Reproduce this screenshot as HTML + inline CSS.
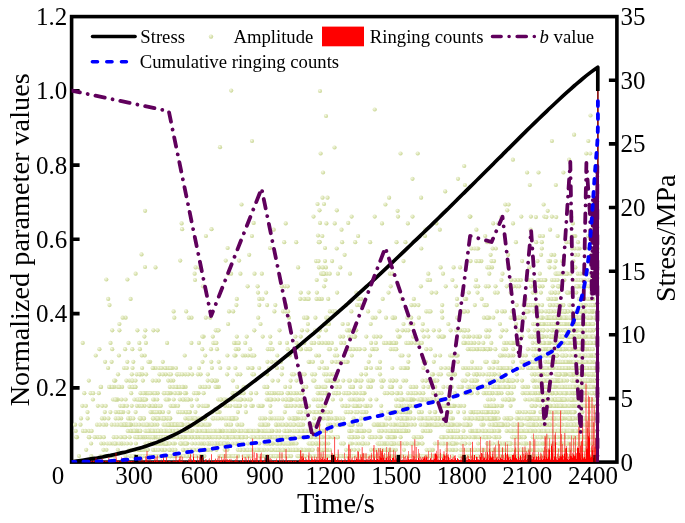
<!DOCTYPE html>
<html><head><meta charset="utf-8"><title>chart</title>
<style>
html,body{margin:0;padding:0;background:#fff;overflow:hidden}
svg{display:block;will-change:transform}
text{font-family:"Liberation Serif",serif;fill:#000}
</style></head><body>
<svg width="685" height="523" viewBox="0 0 685 523">
<rect width="685" height="523" fill="#fff"/>
<rect x="71.6" y="16.6" width="545.3" height="445.5" fill="none" stroke="#000" stroke-width="3.6"/>
<path d="M71.6 90.8H79.6M71.6 165.1H79.6M71.6 239.3H79.6M71.6 313.6H79.6M71.6 387.9H79.6M616.9 398.5H608.9M616.9 334.8H608.9M616.9 271.2H608.9M616.9 207.5H608.9M616.9 143.9H608.9M616.9 80.3H608.9" stroke="#000" stroke-width="3.6" fill="none"/>
<path d="M136.2 462.1V454.6M201.7 462.1V454.6M267.3 462.1V454.6M332.8 462.1V454.6M398.4 462.1V454.6M464 462.1V454.6M529.5 462.1V454.6M595.1 462.1V454.6" stroke="#000" stroke-width="3.5" fill="none"/>
<clipPath id="cp"><rect x="71.6" y="16.6" width="545.3" height="445.9"/></clipPath>
<g clip-path="url(#cp)">
<defs><radialGradient id="rg" cx="0.36" cy="0.34" r="0.72"><stop offset="0" stop-color="#f7f9ea"/><stop offset="0.35" stop-color="#e3eac3"/><stop offset="0.75" stop-color="#d2dda3"/><stop offset="1" stop-color="#bfce83"/></radialGradient><marker id="mk" markerWidth="6" markerHeight="6" refX="3" refY="3" markerUnits="userSpaceOnUse"><circle cx="3" cy="3" r="2.1" fill="url(#rg)"/></marker></defs>
<polyline points="559.5,342.9 422.8,324 290.6,380.6 571,437.2 554.2,418.4 554.8,399.5 356.4,292.6 584.7,380.6 288,449.8 553.4,368 145.3,430.9 552.6,380.6 281.2,443.5 218.2,399.5 370.9,386.9 553.6,430.9 298.2,412.1 488.2,386.9 185.9,412.1 317.6,443.5 551.6,412.1 469.4,443.5 325.5,280 163.6,449.8 204.3,424.7 572,386.9 433.1,374.3 569.3,336.6 428.3,386.9 325,248 578.6,437.2 212.8,336.6 116.6,443.5 326.8,273.7 580.1,399.5 184.9,443.5 578.2,424.7 555.1,330.3 470.4,349.2 549.8,405.8 264.6,437.2 140.5,393.2 122.1,443.5 97,424.7 589.9,324 559.4,430.9 569.3,305.1 492.3,430.9 129.4,380.6 540.4,280 203.9,443.5 227.6,248 554.2,399.5 389.8,273.7 573.5,361.8 148.1,443.5 164.4,418.4 408.6,430.9 549,449.8 553.8,317.7 384.7,424.7 532.8,437.2 464.2,166 402.8,430.9 593,311.4 469.6,437.2 596,368 157.4,424.7 561.8,443.5 448.3,324 563.7,355.5 132.9,430.9 376.7,456.1 521.2,456.1 478.6,342.9 560.5,317.7 500.7,336.6 258,292.6 264.3,386.9 118.7,386.9 278.1,443.5 332.8,380.6 357.9,424.7 341.3,361.8 538.2,349.2 268.3,424.7 259.7,424.7 168,393.2 588,374.3 158.6,437.2 535.6,405.8 408,368 325.1,405.8 470.6,380.6 590.1,443.5 578.2,349.2 349.6,399.5 119.4,330.3 551.6,298.9 509.2,399.5 391.5,443.5 593.2,298.9 580.2,368 438.7,456.1 446.6,449.8 179.5,456.1 596.2,380.6 586,311.4 380.3,424.7 390.7,349.2 104.5,418.4 564.6,449.8 196.2,456.1 555.2,336.6 334.9,456.1 572.5,368 582.7,317.7 433,449.8 171.2,424.7 259.3,305.1 434.9,418.4 337.3,424.7 285.2,386.9 593.6,380.6 245.9,412.1 580.9,393.2 577.7,273.7 328.1,449.8 86.2,449.8 554.5,443.5 285.9,399.5 154.6,449.8 580.6,286.3 104.8,412.1 540.2,412.1 323.4,430.9 267.3,386.9 489.9,242.2 380.1,443.5 562.6,330.3 428.8,456.1 139.8,437.2 154.2,412.1 571.5,412.1 206.7,437.2 569,430.9 497.7,393.2 393.5,342.9 548.3,361.8 546.7,380.6 485.9,305.1 450.7,405.8 522.5,456.1 570.7,412.1 544,443.5 252.4,374.3 154.2,443.5 388.2,437.2 556.3,317.7 166.3,430.9 559.1,286.3 427.6,280 165.1,368 536.7,342.9 592.4,430.9 298.7,374.3 495,292.6 332.2,380.6 177.4,386.9 145.9,437.2 115,399.5 583.6,405.8 569.2,324 287.7,456.1 581.8,456.1 399.3,443.5 558.8,386.9 173.2,424.7 328.9,349.2 308.6,443.5 301,349.2 323.5,405.8 586.1,449.8 186.7,412.1 435.2,418.4 150.4,443.5 433.7,330.3 315.4,317.7 235.4,342.9 378.8,443.5 185.3,430.9 154.8,430.9 581.1,355.5 539.7,386.9 439.2,418.4 542.7,368 413.8,399.5 526.8,443.5 576.5,393.2 447.3,443.5 461.7,437.2 181.3,424.7 240.2,393.2 542.1,305.1 503.1,424.7 297.6,424.7 192.1,374.3 150.8,443.5 561.1,437.2 140.6,399.5 592,336.6 393.8,349.2 202.1,456.1 390.2,449.8 497.7,456.1 142.1,368 525.5,361.8 577.8,361.8 278.4,361.8 505.6,456.1 581.5,330.3 263.3,424.7 319,355.5 591.3,336.6 321.6,430.9 517.7,456.1 535.6,380.6 563.3,374.3 559.2,393.2 465.1,443.5 568.6,437.2 189.1,437.2 337.6,437.2 456.8,305.1 456.3,330.3 405.2,424.7 266.5,456.1 191.7,437.2 550.4,292.6 591.7,430.9 577.2,324 527.8,368 106.4,449.8 558.4,342.9 159.2,418.4 134.1,424.7 537.6,317.7 251.5,355.5 343.5,443.5 562.4,443.5 146.2,393.2 386.4,443.5 558.2,456.1 132.6,386.9 567.8,210.8 303.2,456.1 526.4,311.4 438.4,418.4 193.9,456.1 326.9,449.8 144.7,355.5 136.9,430.9 191.5,317.7 336,437.2 585.7,456.1 421.9,412.1 351.4,311.4 166.5,437.2 323.6,449.8 224.6,418.4 266.5,443.5 230.6,418.4 452,443.5 530.7,361.8 559.6,430.9 469.4,456.1 585.4,305.1 453.8,430.9 435,380.6 119.4,324 558.9,330.3 472.2,386.9 428.2,399.5 593.1,286.3 363,430.9 595.6,336.6 591.4,317.7 434.7,399.5 426.9,418.4 293.1,430.9 523.1,412.1 309.3,424.7 564.9,456.1 468.6,368 125.6,456.1 512.6,424.7 263.9,449.8 448,386.9 502.9,368 243.2,456.1 259.3,443.5 410.7,456.1 172.5,405.8 568.6,412.1 129.5,386.9 228.1,324 442.7,405.8 513.6,399.5 202.6,449.8 162.6,437.2 325.9,267.4 553.1,449.8 129.9,418.4 578,242.2 495.2,424.7 549.5,424.7 579.1,399.5 432.8,424.7 522,380.6 557.7,430.9 195.4,412.1 163,412.1 161.6,437.2 315.3,412.1 249.2,254.8 555.3,292.6 418.4,305.1 345.7,412.1 574.5,424.7 517.6,449.8 592.4,254.8 576,430.9 554.4,311.4 197.4,449.8 557.9,405.8 271,449.8 199.8,437.2 326.9,393.2 507.5,393.2 304.7,437.2 322.9,386.9 326,116 587.4,317.7 533.6,311.4 463.9,456.1 410.6,386.9 164.7,443.5 588.7,437.2 569.1,159.7 579.2,386.9 566.9,424.7 194.6,273.7 583,368 562.6,380.6 326.2,430.9 328,456.1 320,222.9 506.3,330.3 450.8,424.7 269.7,443.5 513.7,424.7 125.6,317.7 181.1,443.5 177.2,430.9 546.2,324 448.8,405.8 207.6,443.5 410.3,412.1 551.8,380.6 445.8,424.7 570.8,437.2 582.7,330.3 488.8,412.1 389.1,197.7 301.2,405.8 538.4,418.4 528.3,330.3 538.7,399.5 388.3,456.1 360.9,424.7 206.5,430.9 426.3,311.4 588.3,443.5 477.5,393.2 225.7,437.2 545.7,399.5 546.4,393.2 176,368 211.3,361.8 589.3,418.4 523.8,456.1 364.5,393.2 392.1,386.9 418,399.5 254.3,330.3 499.8,424.7 541.8,242.2 343.3,380.6 574.5,393.2 535.4,405.8 201.9,418.4 590,355.5 370.1,242.2 248.1,355.5 106.3,424.7 462.5,311.4 199.6,437.2 380.4,336.6 233.9,399.5 593,374.3 117.8,399.5 563,336.6 234.4,456.1 152.3,437.2 170.5,405.8 234.2,430.9 588.4,418.4 337.1,292.6 545.7,443.5 469.4,418.4 581.7,405.8 445.7,418.4 506.2,349.2 288.5,449.8 240.3,424.7 592.4,280 379.9,368 343.7,456.1 571.1,317.7 140.4,374.3 130.6,298.9 558.9,317.7 510.6,405.8 368.3,430.9 283.1,311.4 576.1,355.5 169.8,386.9 139.6,418.4 550.5,355.5 507.7,418.4 522.8,368 185.6,386.9 136.8,399.5 103.4,456.1 519.8,437.2 556.1,361.8 541.6,393.2 430.4,424.7 469.6,386.9 574.7,248.5 549.9,342.9 310,361.8 542.7,336.6 497.3,456.1 582.7,368 538.5,368 587.9,399.5 378.9,430.9 425.8,430.9 503.6,380.6 541.4,368 114.4,443.5 478.9,336.6 509.6,418.4 247.5,449.8 173.1,437.2 420.3,399.5 200.6,374.3 531.4,405.8 87.5,412.1 586.6,380.6 182.5,399.5 589.4,386.9 277.5,393.2 372.9,380.6 204.9,418.4 298.3,418.4 536.3,443.5 407.9,393.2 593.4,361.8 529.8,430.9 502.5,273.7 565.8,399.5 564.9,349.2 223.1,443.5 554.3,254.8 317.7,437.2 520.8,449.8 206.3,424.7 303.6,430.9 380,361.8 254.5,273.7 538.9,430.9 454.9,405.8 590,380.6 77,437.2 142.5,424.7 473.4,430.9 198.5,418.4 506.3,424.7 542.1,317.7 240.2,405.8 571.9,361.8 286.2,424.7 593.6,399.5 173.9,424.7 586.8,449.8 236.2,456.1 311.7,437.2 155.7,405.8 375.9,456.1 481.6,449.8 245.1,355.5 420.3,456.1 566.8,292.6 512.7,430.9 159,443.5 527.3,305.1 588.3,280 279.1,437.2 440.5,443.5 549.5,317.7 505.2,449.8 581.5,336.6 262.5,298.9 452.6,437.2 524.4,449.8 212.6,437.2 544,342.9 555.5,374.3 477.3,412.1 385.1,443.5 448.2,430.9 192.1,437.2 326.2,317.7 530.9,216.6 508.9,386.9 573,374.3 568.8,374.3 227.9,443.5 520.2,449.8 508.9,267.4 445.9,405.8 528.1,418.4 291,393.2 317.5,204 177,424.7 536.7,386.9 183,456.1 487.8,399.5 407,443.5 574.3,317.7 574.3,374.3 358.8,405.8 159.5,374.3 151.8,430.9 416.9,437.2 414.9,405.8 147.7,449.8 549.9,456.1 279.8,342.9 562.5,361.8 300.1,393.2 145,267 273,443.5 544,418.4 443.7,437.2 354,405.8 322.5,197.7 491.4,412.1 576.7,368 586.8,349.2 297.3,456.1 529.8,368 207.9,405.8 328.3,443.5 192.4,430.9 160.4,430.9 151,443.5 279.3,393.2 216.6,437.2 402.2,405.8 484.3,437.2 88.8,380.6 173.9,437.2 389.8,418.4 566.4,317.7 108.1,368 497.9,443.5 164.5,437.2 549.1,349.2 575.8,386.9 126.8,424.7 344.3,361.8 162,456.1 157.6,330.3 272.7,437.2 544,399.5 154.7,424.7 337.6,456.1 537.8,399.5 409.6,405.8 231.2,90.6 501.3,443.5 363.2,443.5 165.6,399.5 503.2,449.8 396.9,456.1 322.5,412.1 551.9,141 516.1,324 151.1,430.9 584.5,280 534.4,424.7 212.6,418.4 566.2,374.3 254.4,449.8 478,430.9 271.9,399.5 547.1,412.1 524.8,443.5 351.6,216.6 300.9,449.8 489.2,368 568.7,336.6 482.7,418.4 267.8,349.2 299.7,456.1 80.5,424.7 404.9,430.9 592.1,368 286.9,405.8 556.3,393.2 386.2,418.4 366.3,336.6 538.1,305.1 296.4,449.8 387.1,443.5 582.4,336.6 495.8,248.5 545.3,405.8 592.1,324 468.4,342.9 545,424.7 376.4,399.5 550.9,412.1 396.7,430.9 435.3,412.1 552.9,393.2 540.9,292.6 557.7,286.3 413.3,399.5 422.4,418.4 565.8,430.9 497.7,412.1 170.9,393.2 374,336.6 99.9,424.7 182.1,229.2 533.6,449.8 538.8,399.5 540.8,399.5 204.3,418.4 476.2,437.2 562.1,273.7 408.3,418.4 491.3,342.9 573,405.8 432.3,456.1 203.6,393.2 141.9,399.5 471.7,430.9 352,443.5 169.8,449.8 543.2,418.4 483.2,430.9 232.7,443.5 315,456.1 383.9,342.9 410.3,324 423.1,399.5 467.8,311.4 536.5,324 577.1,399.5 563.4,349.2 271.3,437.2 204.8,449.8 513.2,349.2 165.1,430.9 183.3,437.2 582.3,311.4 395.4,349.2 144.1,399.5 208.7,437.2 495.4,437.2 534,418.4 192.4,418.4 445.7,286.3 434.8,424.7 324.1,374.3 520.8,280 547.4,355.5 473.5,336.6 576.5,330.3 551.9,280 503.4,368 170.7,424.7 486,336.6 185,399.5 320.4,443.5 252.5,368 488.9,430.9 143.3,437.2 448.9,424.7 199.2,449.8 134.4,399.5 525.5,393.2 590.5,115.5 527.9,361.8 167.4,418.4 582.5,361.8 556.5,380.6 569.8,374.3 406.2,418.4 480.3,449.8 507.2,210.3 519.6,412.1 549.2,449.8 549.6,412.1 162.8,361.8 240.8,449.8 281.1,424.7 538.3,449.8 239.6,430.9 121.2,418.4 138,449.8 535.2,374.3 282.8,399.5 579.5,248.5 395.1,430.9 306.1,349.2 485.6,430.9 536.5,418.4 570.4,443.5 174.7,430.9 87.6,418.4 186.1,399.5 587.7,430.9 454.1,430.9 340,424.7 119.9,412.1 188.8,317.7 140,430.9 400.5,153.5 216.7,412.1 575.5,317.7 585.4,374.3 219.6,412.1 397.3,424.7 318,449.8 533,324 581.4,443.5 476.9,418.4 462.9,330.3 490.3,399.5 103.9,443.5 473.2,380.6 454.8,374.3 521.3,216.6 574.6,449.8 567.8,418.4 131.7,405.8 321,273.7 583.1,418.4 92.9,399.5 222.3,430.9 134.4,386.9 124,368 597.4,368 160.4,430.9 270.3,405.8 177.6,437.2 228.2,443.5 161.2,437.2 594.1,456.1 219.8,456.1 560.3,330.3 149.1,424.7 437.6,399.5 395.9,449.8 570.6,349.2 365.5,456.1 596.8,430.9 307.3,430.9 576.8,330.3 586.1,399.5 525.6,311.4 527.9,418.4 354.3,399.5 547.4,317.7 413.8,437.2 241.5,204.5 328.3,418.4 490.5,405.8 574.9,437.2 451.4,443.5 496.4,424.7 592.7,405.8 567.9,430.9 195.6,267.4 190.9,449.8 390.1,380.6 581.3,342.9 324,273.7 347.2,349.2 568.6,405.8 339.3,456.1 190,412.1 571.2,361.8 583.8,374.3 544.2,449.8 574.5,368 320,91 287.3,437.2 234.8,405.8 485.2,361.8 186.1,393.2 489.3,273.7 303,456.1 567.5,456.1 304.9,449.8 168.6,443.5 234.7,437.2 226.8,418.4 179.8,424.7 180.2,393.2 533.6,418.4 279.8,449.8 352.6,437.2 212.1,443.5 396.2,342.9 542.3,430.9 498.4,449.8 559.9,386.9 88.8,437.2 495.5,286.3 592.5,355.5 549.2,393.2 540.3,342.9 558.5,399.5 596.4,374.3 557.6,405.8 163,418.4 398.3,430.9 144.5,424.7 519.3,456.1 591.8,374.3 228.2,437.2 529.3,412.1 287.4,430.9 543.7,412.1 555.9,386.9 597.3,399.5 271.3,449.8 467.1,374.3 509.8,430.9 500.4,424.7 141.5,456.1 531.1,286.3 301,449.8 114.3,386.9 463.5,430.9 255.4,449.8 271.1,430.9 572.8,336.6 550.8,456.1 265,456.1 521.3,437.2 584.3,424.7 573.9,399.5 542.3,349.2 485.1,393.2 421.8,399.5 317.7,405.8 529.5,443.5 266.3,430.9 381.2,405.8 554.2,349.2 199,368 534.2,386.9 513.5,437.2 477.4,374.3 163.5,424.7 530,430.9 580.5,424.7 283.6,449.8 564.8,430.9 318.9,267.4 287.3,456.1 377.8,449.8 494.8,405.8 532.3,405.8 477.8,456.1 349.7,456.1 584.1,361.8 336.8,210.3 355,336.6 443,273.7 581.6,380.6 334.5,147.5 516.8,374.3 263.7,430.9 358.1,236 574.6,412.1 527.7,456.1 140.3,456.1 427.2,330.3 587.4,368 576.2,424.7 257.6,286.3 543.6,324 319.4,368 555.8,449.8 596.4,361.8 326.1,456.1 516.5,456.1 573.7,437.2 502.9,399.5 562.9,393.2 418.3,456.1 526.9,424.7 590.4,386.9 566,368 519,456.1 587.6,424.7 549.8,449.8 117.5,399.5 558,424.7 582,336.6 186.6,456.1 146.1,399.5 561,311.4 563.1,449.8 103.4,449.8 556.9,399.5 522.9,355.5 392.3,368 546.5,418.4 586.3,324 316,443.5 576.9,361.8 563.5,368 228.5,368 511,443.5 164.8,437.2 573,280 281.6,456.1 75.1,424.7 383.2,424.7 399.7,430.9 113.7,437.2 537.5,437.2 565,317.7 564.8,386.9 518.5,342.9 145.8,456.1 505.4,368 450.6,430.9 202.5,430.9 525.3,399.5 516.7,305.1 572.6,399.5 244.3,449.8 208.8,449.8 167.2,418.4 549.9,361.8 390.7,449.8 441,437.2 568.3,412.1 571.4,399.5 306.3,437.2 356.1,380.6 556.2,324 583.5,298.9 587.1,405.8 579.3,437.2 522.6,424.7 316,261.1 272.4,430.9 165.1,449.8 205.6,430.9 553.9,399.5 493.5,424.7 570.4,324 594.1,399.5 519.6,430.9 296.4,418.4 131.1,424.7 381.7,386.9 571.2,418.4 313.6,399.5 144.6,405.8 583.8,273.7 476.1,280 361.3,443.5 359.7,430.9 216.4,449.8 495.5,424.7 238.5,349.2 558.5,286.3 585.9,305.1 570.1,424.7 440.6,267.4 557.5,412.1 547.1,349.2 165.6,443.5 169.9,456.1 555.6,342.9 562.9,437.2 407.2,443.5 160.1,412.1 568.9,336.6 197.1,430.9 313.2,456.1 581.8,418.4 358.9,405.8 482.8,412.1 554,456.1 475.4,456.1 571.2,418.4 572.3,418.4 555.7,355.5 116.8,437.2 540.8,355.5 383.2,380.6 520.4,418.4 177.6,430.9 415,342.9 534,449.8 285.3,449.8 578.8,443.5 501.6,456.1 246.7,449.8 161.9,456.1 271.9,418.4 555.7,361.8 507.8,449.8 145.3,330.3 559.9,399.5 588.6,317.7 475.2,380.6 576.2,280 177,424.7 569.9,449.8 570.3,399.5 147.5,449.8 211.5,229.2 591.7,330.3 343.2,336.6 208.3,430.9 558,317.7 264.4,430.9 401.7,456.1 388.2,412.1 522.6,437.2 564.8,273.7 387.4,449.8 235.6,437.2 549.7,305.1 311.4,449.8 571.3,412.1 569.2,361.8 587.7,324 176.9,374.3 396.1,405.8 346.8,456.1 487.8,437.2 285.6,311.4 393.3,317.7 260.2,449.8 305.7,405.8 311.6,342.9 441.6,424.7 576.9,386.9 203.2,386.9 564.1,412.1 343.1,424.7 163.3,443.5 496.3,418.4 428.3,273.7 554.5,267.4 587.7,456.1 571.2,311.4 173.1,449.8 294.6,418.4 552.4,368 505.6,399.5 489.5,330.3 231.3,399.5 497,311.4 521.2,424.7 514.7,342.9 159.5,456.1 544.1,342.9 135.2,430.9 535.5,324 582.1,449.8 202.4,405.8 512.2,386.9 349.2,437.2 477.1,380.6 561.7,349.2 266.8,430.9 589.3,399.5 536.6,456.1 97.5,437.2 596.6,261.1 393.7,456.1 585.8,286.3 496.1,449.8 261.6,430.9 415.4,456.1 242.3,424.7 592,204.5 470.1,430.9 562,311.4 572.4,342.9 167.1,443.5 538.4,324 306.3,430.9 203.4,437.2 447.8,405.8 494.6,430.9 587.9,336.6 257.1,437.2 385.8,430.9 223.2,430.9 562.6,368 297.6,449.8 548.2,380.6 551.2,456.1 134.1,430.9 591.4,324 230,456.1 270.4,349.2 493,368 154.3,437.2 520.4,430.9 554.5,330.3 125.9,424.7 456.8,430.9 237.8,449.8 166,430.9 412.5,216.6 480.9,418.4 128.3,412.1 460.5,449.8 323,437.2 555.3,449.8 393.8,342.9 291.9,374.3 578,324 130.5,424.7 165.2,437.2 320.7,412.1 536.8,424.7 507,443.5 358.7,443.5 596.9,273.7 285.7,223.4 580.1,430.9 219.6,443.5 535,336.6 567.3,449.8 269.7,456.1 498.3,223.4 318.9,393.2 561.7,412.1 499.4,380.6 559.5,361.8 541.5,449.8 460.1,267.4 557.1,355.5 156.2,418.4 131.9,380.6 572.8,456.1 562.2,261.1 382.6,449.8 123.9,424.7 322.6,273.7 555.3,324 549.6,424.7 485.1,412.1 582.1,393.2 498.5,430.9 365.7,443.5 565.2,311.4 368.1,380.6 573.7,330.3 584.3,349.2 585.3,355.5 489.6,374.3 583.2,405.8 575.3,405.8 582.6,443.5 487.4,349.2 265.2,424.7 506.6,449.8 248,399.5 544.3,216.6 188.7,424.7 554.7,405.8 334.7,223.4 494.3,386.9 335.8,380.6 500.4,368 356.7,349.2 474.4,437.2 259.3,456.1 482.5,386.9 139.1,399.5 579.1,405.8 328.4,342.9 153.5,393.2 155.7,368 577.4,405.8 545.8,399.5 579.6,443.5 442.8,424.7 319.5,241.8 557.3,374.3 486.9,443.5 274,456.1 238.3,430.9 402.1,405.8 130.7,418.4 547,449.8 368.1,443.5 499.3,430.9 214.6,342.9 558.9,317.7 568.4,418.4 113,399.5 236.4,305.1 305.6,412.1 371,449.8 557.9,361.8 322.5,456.1 492.6,248.5 370.6,380.6 583.9,355.5 421.5,437.2 383.6,380.6 526.9,456.1 538.2,336.6 571.3,217.1 192.6,449.8 404.6,405.8 229,424.7 101.2,443.5 132.7,386.9 584.2,399.5 531.1,430.9 393.9,412.1 224.7,449.8 258.9,449.8 481.6,456.1 592.8,361.8 521.1,449.8 534.7,374.3 492.7,405.8 402.5,424.7 549.4,424.7 320.9,393.2 587,405.8 320,456.1 497.5,368 389.9,437.2 559.5,305.1 560.1,324 597.4,393.2 565,330.3 91.3,456.1 188.8,412.1 473.2,412.1 175.5,405.8 496.9,418.4 455.5,355.5 174.3,424.7 558.5,405.8 533.4,361.8 549.1,368 330.9,412.1 558.3,380.6 571,412.1 551.9,449.8 140.7,449.8 477.6,368 588.9,437.2 540,368 270.6,342.9 248,368 595.5,355.5 488.4,418.4 555.9,324 510.8,443.5 546,374.3 404.6,456.1 508.8,355.5 563.6,412.1 586.3,336.6 288.9,449.8 516.4,449.8 244.3,456.1 559.3,380.6 190.2,368 135.9,443.5 595.1,342.9 579.2,456.1 583.9,386.9 350.4,349.2 592.6,336.6 576.4,386.9 163.2,437.2 278.6,449.8 269.6,456.1 589.5,311.4 572.8,292.6 129.6,437.2 322.7,267.4 112.2,349.2 478.5,418.4 303.2,424.7 556.9,368 169.9,430.9 210,443.5 106.3,279.5 207.7,380.6 365.8,412.1 325.7,342.9 441.3,336.6 473,437.2 540.3,437.2 532.8,443.5 233.2,311.4 366.6,405.8 249.8,456.1 171.5,430.9 594.1,449.8 565.9,393.2 588.8,368 489.5,418.4 548.3,317.7 548.1,405.8 512.9,159.7 125.8,424.7 196.9,437.2 269.8,443.5 573.3,368 344.6,254.8 156.8,443.5 250.5,399.5 593.4,330.3 464.8,393.2 135,437.2 493.7,399.5 582.5,412.1 359.7,349.2 596.7,368 548.9,311.4 177.9,412.1 522.4,449.8 341.5,229.7 111.2,456.1 123.3,412.1 406.4,424.7 169.1,374.3 494.4,361.8 583.1,380.6 152.3,405.8 507.9,368 450.1,355.5 495.3,449.8 528.2,305.1 384.9,443.5 531,449.8 239.4,443.5 494.6,405.8 443.9,336.6 587.8,374.3 581.7,443.5 594.1,393.2 169.6,393.2 456.2,424.7 487.6,412.1 127.4,279.5 263,456.1 573.5,355.5 494.4,449.8 388.3,443.5 517.9,430.9 543.5,368 240.6,437.2 566.9,386.9 152.1,412.1 332.5,374.3 559.5,324 170.4,456.1 575.5,330.3 186,437.2 182.6,430.9 556,330.3 535.8,393.2 277.7,456.1 385.4,204.5 300.5,424.7 155.1,412.1 236.8,336.6 143.7,418.4 564.5,361.8 429,424.7 562.5,443.5 481.8,412.1 474.8,305.1 252.8,405.8 303.3,437.2 526.7,430.9 200.2,456.1 594,405.8 546.7,443.5 533.6,355.5 555.4,418.4 522.1,261.1 530.6,229.7 569.2,430.9 390.7,286.3 549.2,430.9 343.7,456.1 537.8,399.5 586.2,330.3 380,374.3 590.6,418.4 400.4,424.7 551.9,393.2 461.1,437.2 499.4,386.9 536,399.5 590.4,405.8 157.6,430.9 555.4,292.6 350.2,430.9 553.6,430.9 336.7,248.5 198.5,424.7 188,418.4 521.6,443.5 170.3,418.4 390.7,424.7 596,361.8 167.4,437.2 426.4,456.1 156.7,437.2 503.5,456.1 561.8,386.9 380.7,437.2 583.2,449.8 581.9,437.2 533.6,368 446.1,456.1 328.9,456.1 476.5,374.3 380.5,424.7 198.5,405.8 370.9,437.2 453.8,449.8 285,286.3 575.8,456.1 472,361.8 141.3,449.8 584.8,405.8 316.2,355.5 146.9,430.9 355.3,412.1 349.5,330.3 538.8,443.5 534.7,449.8 589.4,305.1 436.1,418.4 565.2,374.3 367.4,405.8 270.5,449.8 214.8,380.6 594.3,317.7 271.7,430.9 589.9,298.9 366.5,412.1 250.9,393.2 411.3,399.5 510.3,449.8 274.4,311.4 477.1,430.9 315.8,424.7 578.6,311.4 279.7,456.1 545.4,430.9 573,418.4 400.5,355.5 303.4,386.9 324.9,412.1 552.8,336.6 206.8,449.8 411.3,393.2 470.4,216.6 262.7,336.6 491.7,418.4 356.5,393.2 235.2,418.4 441.1,456.1 314.3,342.9 566.4,242.2 554.1,405.8 353.6,418.4 336.7,393.2 543.4,449.8 574.8,405.8 457.6,355.5 524.4,449.8 170.9,374.3 428.9,311.4 268.1,430.9 563.4,172.5 274.4,393.2 456.4,430.9 464.9,185 330.4,424.7 406.2,380.6 589,349.2 488.1,393.2 493.9,456.1 531.9,374.3 428.3,336.6 587.7,361.8 593.2,330.3 541.8,280 304.3,342.9 556.9,399.5 499.5,424.7 568.9,336.6 201.6,437.2 361.2,374.3 545.4,280 386.5,424.7 315.2,437.2 543.2,424.7 557,368 506.2,368 116.3,399.5 477.9,349.2 560.5,349.2 177.1,424.7 173.3,456.1 322.1,393.2 408.2,456.1 230.9,437.2 121.6,399.5 562,349.2 287.7,349.2 570.3,437.2 410.6,418.4 588.5,456.1 403.6,424.7 540.2,424.7 536.4,424.7 460.1,330.3 545.2,412.1 556.1,298.9 581.2,305.1 555.8,185 474.6,412.1 589.9,330.3 569.9,418.4 578.3,317.7 447.4,405.8 147.8,437.2 178.2,424.7 416.3,386.9 591.9,342.9 591.8,393.2 238,342.9 565.2,399.5 184.2,443.5 502.1,405.8 504.8,311.4 342.1,242.2 288.9,317.7 155.3,405.8 532.7,443.5 148.6,430.9 310,456.1 546.2,449.8 510.1,418.4 508.1,424.7 345.2,456.1 471.4,368 322.9,456.1 348.8,330.3 387.5,456.1 565.3,386.9 389.1,456.1 573.4,336.6 147.8,393.2 327.5,197.7 574.8,336.6 319.6,412.1 157.7,430.9 236.9,399.5 364.3,430.9 487.9,405.8 442.6,336.6 480,336.6 250.9,449.8 485,405.8 234,342.9 407.1,368 590.2,399.5 565.1,456.1 154.7,399.5 538.4,380.6 419.4,342.9 524,430.9 288.3,437.2 508.4,399.5 384.8,393.2 592.2,405.8 583.4,430.9 307.3,330.3 405.9,330.3 331,430.9 323.1,273.7 209.3,437.2 393.5,449.8 341.8,456.1 230.8,456.1 531,418.4 595.6,236 159.9,443.5 131.8,374.3 596.4,305.1 562.6,430.9 397.6,210.8 177.6,374.3 585,330.3 413.1,336.6 382,430.9 138,399.5 541.9,336.6 153.4,330.3 506.5,443.5 111.7,424.7 581.2,330.3 521.4,361.8 452.2,456.1 535.7,449.8 183.6,449.8 420.2,399.5 332.7,437.2 289.7,355.5 565.4,361.8 267.2,449.8 156.6,418.4 466.3,449.8 312.1,449.8 519.8,449.8 561.4,399.5 160.8,456.1 179.9,443.5 541.8,248.5 461.2,443.5 246.7,336.6 368,386.9 397.8,393.2 564.4,311.4 565,437.2 236.4,437.2 463.2,424.7 169.7,368 110.5,386.9 506.7,286.3 229,311.4 137.6,456.1 576.9,349.2 471.3,449.8 539.8,236 496.6,437.2 578.9,456.1 583.4,305.1 546.3,355.5 313.5,216.6 321.2,449.8 114.9,424.7 582,399.5 584.8,418.4 587.8,386.9 576,286.3 547.6,412.1 395,317.7 578.5,386.9 349.2,336.6 270,248 233.1,430.9 257.9,430.9 494.8,449.8 590.2,424.7 577.4,418.4 562.4,386.9 552.4,449.8 560.1,374.3 532.7,292.6 516.7,286.3 124.1,405.8 364.5,349.2 285.6,405.8 577.8,330.3 319.9,456.1 559,424.7 585.2,336.6 286.8,449.8 528.6,311.4 390.8,342.9 547.3,437.2 586.3,153.5 551.3,254.8 473.7,412.1 508.5,399.5 376.7,456.1 458.2,430.9 374.7,109.5 259.2,368 340,418.4 551.6,418.4 564.7,374.3 389.7,386.9 501.5,393.2 587.7,324 588.9,342.9 587,424.7 489.6,380.6 505.5,399.5 172.4,368 150.5,412.1 515.6,317.7 182.3,424.7 490.4,349.2 522.6,361.8 431.3,456.1 336.2,393.2 396.9,412.1 302.4,449.8 590.2,368 145.5,443.5 234.1,456.1 326.5,456.1 314.2,418.4 596.4,368 510.5,399.5 551.1,424.7 579,449.8 590.6,418.4 344.3,342.9 197.9,449.8 353.4,349.2 590.2,342.9 421.9,443.5 432,418.4 227.1,456.1 329.9,449.8 535.2,305.1 568.3,349.2 191.9,405.8 287,342.9 559.6,449.8 325.9,330.3 482.5,456.1 322.4,443.5 430.5,430.9 322,449.8 569.3,292.6 135.5,386.9 506.6,430.9 476.4,229.7 575.1,418.4 489.8,405.8 244.7,399.5 348.2,456.1 594.9,355.5 567.1,380.6 592.5,311.4 565.8,393.2 474.4,342.9 560.9,336.6 293.9,374.3 179.5,437.2 159.5,412.1 576.4,361.8 586.4,437.2 567.7,437.2 433.4,456.1 311.7,443.5 486.6,393.2 477.7,449.8 499.1,456.1 377.6,443.5 531.3,418.4 191.1,399.5 554.6,430.9 407.8,223.4 547.4,430.9 283.4,443.5 370.1,355.5 117.6,424.7 295.1,449.8 526.8,456.1 545.9,311.4 559.6,368 579.6,324 594.5,393.2 479.9,374.3 582.7,374.3 548.1,437.2 400.7,368 379.4,311.4 492,267.4 238.3,399.5 546,349.2 222.5,430.9 204.6,443.5 534.1,412.1 467.3,393.2 554.3,336.6 552.4,456.1 560.4,361.8 155.5,267.4 539,311.4 82.7,342.9 280.6,449.8 489.2,317.7 577.8,374.3 526.1,449.8 208.8,430.9 559.7,443.5 187.4,443.5 111.6,361.8 326.7,374.3 393.1,443.5 232.8,380.6 408.3,330.3 572.1,342.9 525.8,355.5 570.8,449.8 365.9,374.3 309.1,349.2 156.2,456.1 131.7,430.9 594.4,242.2 593.2,424.7 555.7,456.1 443.4,456.1 549.9,368 421.5,456.1 252,141 391,437.2 285.3,449.8 439.8,229.7 247.8,449.8 588.4,386.9 503.6,456.1 227.1,374.3 356.6,405.8 560.7,430.9 431.6,292.6 406.7,412.1 258.3,430.9 511.3,449.8 344,393.2 587.6,298.9 539.2,399.5 510.8,368 559.9,374.3 350,273.7 272.8,456.1 533.7,368 528.6,280 513,361.8 183.6,456.1 450.9,412.1 485.8,349.2 196.9,449.8 591.7,355.5 558.3,456.1 88.9,430.9 563,305.1 411.2,317.7 573.4,261.1 500,443.5 110.5,342.9 350.5,424.7 524.4,430.9 418.1,342.9 274.1,437.2 274.4,449.8 298.7,424.7 443,456.1 484.3,305.1 589.6,342.9 211.4,437.2 276.1,443.5 168.7,437.2 360.9,418.4 573.8,349.2 350.1,386.9 562.3,456.1 584.1,324 383.7,456.1 291,449.8 301.8,374.3 406.6,418.4 565.9,430.9 352.8,424.7 240.3,449.8 596,242.2 548,399.5 544.6,280 496.9,449.8 530.3,305.1 223.4,443.5 584.3,298.9 590.1,368 465.7,368 149.5,405.8 590.1,349.2 546.5,336.6 212.4,412.1 543.3,412.1 529.7,336.6 399.8,424.7 530.6,368 568.9,349.2 470.6,261.1 180.1,424.7 558,430.9 412.5,178.8 161.8,449.8 575.7,349.2 336,361.8 573.5,424.7 331.3,418.4 402.8,430.9 544.5,412.1 401.6,456.1 451,430.9 327.1,368 579.2,349.2 506.9,418.4 525.9,412.1 144.7,449.8 275.8,437.2 548.9,399.5 178.1,430.9 571.6,349.2 435.1,380.6 295.2,430.9 540,424.7 594.7,386.9 391.6,456.1 565.3,418.4 582.2,349.2 241.7,430.9 422.6,399.5 431.3,399.5 413.4,386.9 547,449.8 504.6,443.5 293.6,437.2 348.7,380.6 401.2,430.9 478.4,386.9 357.9,437.2 141.8,437.2 529.5,449.8 322.3,236 323.1,393.2 559.8,368 195,280 552.4,349.2 595.3,443.5 235.4,368 150.1,437.2 204.8,430.9 284.2,242.2 237,443.5 296.5,342.9 487.3,267.4 324,273.7 584.5,342.9 459.5,424.7 335.8,456.1 587.2,324 585.7,248.5 485.5,437.2 507.3,380.6 413,443.5 226.4,399.5 579.1,386.9 175,393.2 274.9,418.4 567.7,399.5 582.9,324 483.1,418.4 300.8,292.6 509.4,380.6 511.4,456.1 228.7,437.2 542.3,386.9 213.3,342.9 359.3,380.6 519.3,456.1 544.7,380.6 549.1,311.4 136.4,424.7 561.6,317.7 476.5,374.3 573,437.2 499,374.3 360.3,393.2 338.8,456.1 301.3,399.5 474.2,449.8 560.6,424.7 328.2,298.9 299.6,430.9 535.2,430.9 312.4,443.5 576.8,380.6 307.4,317.7 579.9,336.6 564.4,405.8 458.4,386.9 590.9,393.2 276.3,424.7 579,342.9 552.3,330.3 389.3,342.9 149.1,456.1 301.8,418.4 596.8,317.7 542.8,317.7 543.6,204.5 375.8,342.9 469.7,216.6 560.6,456.1 555,418.4 231.1,424.7 402.4,418.4 453,355.5 179.9,437.2 573.2,380.6 400.1,430.9 524.7,437.2 174.7,424.7 438.5,374.3 418.8,443.5 124.1,437.2 539.9,393.2 588.6,324 593.7,223.4 421.8,342.9 531.7,336.6 510.6,317.7 511.5,430.9 290.2,456.1 249.5,430.9 538.5,172.5 546.4,405.8 557.7,317.7 543.8,443.5 149.4,437.2 289.6,430.9 558.5,412.1 578.6,430.9 343.7,456.1 438.5,336.6 464.7,330.3 451.9,443.5 139.3,342.9 535.2,430.9 403.4,380.6 576.4,437.2 197.6,437.2 102.2,405.8 316.7,280 567.3,324 486.4,412.1 569.6,361.8 161.8,418.4 540.7,330.3 590.4,386.9 381,380.6 202,443.5 238.1,405.8 226.4,456.1 223.7,399.5 420.7,424.7 404.8,368 82.3,405.8 528.2,386.9 357.6,430.9 590.2,280 559.9,349.2 585.9,456.1 224.9,437.2 545.9,399.5 326.1,456.1 394.9,443.5 399,456.1 540.2,399.5 215.4,443.5 100.6,386.9 446.1,456.1 592.9,368 588.3,141 248.3,430.9 397.1,443.5 307.4,405.8 117.8,386.9 392.3,412.1 524.4,456.1 245.2,342.9 464.7,418.4 494.3,412.1 266.2,424.7 563.1,399.5 209.2,437.2 370.7,324 495.1,456.1 257.4,430.9 510.7,292.6 269.5,418.4 516.9,437.2 567.4,311.4 170.9,456.1 595.3,368 557.9,342.9 518.7,317.7 537.5,261.1 486.8,317.7 450.6,330.3 594.6,273.7 554.7,330.3 284.3,443.5 219.1,437.2 508.3,449.8 296.8,393.2 408.3,361.8 260.1,418.4 141.1,418.4 425,236 150.5,430.9 588.9,449.8 213.6,437.2 260.5,324 340.5,456.1 236.8,298.9 351.7,430.9 553.2,449.8 230,437.2 560.4,405.8 340.3,267.4 130.1,456.1 325.1,449.8 309.5,456.1 480.6,349.2 323.5,418.4 494.2,380.6 514.1,386.9 504.5,443.5 152.8,418.4 201.5,449.8 154.3,437.2 585,393.2 135.6,273.7 592.1,437.2 440.9,374.3 576.2,355.5 319.1,430.9 235.6,443.5 81,418.4 243.2,437.2 289.5,424.7 226,456.1 425.3,418.4 318.6,336.6 340.1,336.6 176,456.1 242.9,437.2 332.9,311.4 574,361.8 586.9,399.5 583.4,437.2 538,374.3 151.3,424.7 251.9,236 403.8,368 167.4,430.9 547.7,210.8 557.4,405.8 425.4,229.7 297.4,430.9 575.3,336.6 389.1,449.8 524.7,317.7 183.7,430.9 348.3,412.1 588.7,374.3 284.6,456.1 596.6,418.4 264.5,443.5 182.6,443.5 492.5,449.8 589.1,405.8 473.9,374.3 549.5,267.4 181.2,437.2 294.7,449.8 567,412.1 426.1,424.7 124.3,443.5 580,361.8 281.8,393.2 578.7,368 444.8,418.4 241.2,399.5 536.7,399.5 505.4,424.7 572.4,374.3 326.7,449.8 227.8,405.8 396.4,380.6 215.4,342.9 548,361.8 442.1,437.2 288.3,399.5 336.4,386.9 304.5,430.9 525.7,386.9 568.7,368 155.4,405.8 578.2,254.8 543.8,456.1 534,418.4 227.4,355.5 132.3,349.2 425.7,399.5 567.3,273.7 213.8,418.4 313.1,424.7 556.8,273.7 208.9,443.5 592.6,305.1 251.3,437.2 186.5,443.5 118.5,412.1 551.9,380.6 546,430.9 545.4,368 422.4,330.3 318.7,242.2 557,418.4 194.9,418.4 486.7,361.8 586.8,349.2 138.4,430.9 76.3,437.2 569.6,386.9 546.4,217.1 562.1,449.8 565.5,311.4 552.3,449.8 251.8,368 422.5,443.5 224.3,456.1 568.7,443.5 453.4,405.8 319.5,242.2 401.3,412.1 590.5,437.2 121.3,443.5 511.4,418.4 484.6,386.9 559.7,399.5 563.4,399.5 489.2,449.8 330,374.3 341,443.5 558.7,361.8 571.8,380.6 304.3,430.9 490,418.4 257.2,449.8 278.1,437.2 234.7,430.9 595.2,280 513.4,355.5 574.9,317.7 581.1,424.7 485.9,449.8 484.4,449.8 332.5,456.1 348,393.2 210,443.5 551.7,449.8 324.7,449.8 549.4,355.5 553.7,317.7 513,223.4 555.5,393.2 565.9,355.5 583.7,305.1 586.9,368 589,386.9 423.5,361.8 158.8,380.6 555.5,273.7 369.6,430.9 588.6,449.8 118.9,355.5 483.1,449.8 307.1,298.9 582.9,368 592.9,386.9 474.8,368 200.1,449.8 566.6,368 533.6,424.7 588.9,412.1 322.2,342.9 352,399.5 577.5,248.5 402.9,430.9 573.2,437.2 578.9,418.4 285.4,430.9 576.7,437.2 517.7,418.4 269.9,393.2 575.9,380.6 539.8,380.6 237.2,374.3 579.1,286.3 396.3,412.1 163.7,393.2 453.6,424.7 202.9,437.2 374.3,349.2 495.1,418.4 473.5,412.1 258.2,317.7 318.7,443.5 448.7,368 174.8,443.5 589.4,361.8 184.7,393.2 536.7,456.1 353,386.9 410.1,405.8 404,443.5 528.8,424.7 590.4,317.7 239.1,260.6 150.2,361.8 156.1,449.8 421.3,248.5 589.4,368 579,418.4 180.5,430.9 174.6,456.1 282.2,437.2 298.5,449.8 571.5,386.9 135,449.8 158.6,449.8 318.8,437.2 436.6,456.1 553.2,324 569.3,449.8 562.5,405.8 356.2,330.3 241,437.2 284.8,412.1 542.6,286.3 126.8,368 153.3,443.5 399.2,443.5 462.9,368 400.5,424.7 396.4,430.9 167.8,368 370.9,368 567,424.7 463.6,336.6 144.3,437.2 314.4,437.2 298.8,405.8 291.2,456.1 530.3,393.2 156.4,430.9 468.7,449.8 453.6,267.4 587.3,342.9 435.1,355.5 491.3,405.8 485,386.9 217,349.2 183.7,437.2 202.5,361.8 592.1,355.5 510,456.1 540.2,405.8 291,424.7 586.5,380.6 278.5,424.7 509.8,342.9 566.6,336.6 100.4,456.1 536.1,242.2 145.5,393.2 85.9,405.8 382,223.4 194.4,437.2 408.6,355.5 583.5,361.8 512.5,342.9 260.3,405.8 335.8,418.4 396.3,349.2 509.3,443.5 313,380.6 463,292.6 456.7,443.5 547.2,317.7 136.9,430.9 540.5,324 288.1,311.4 352,456.1 567.1,412.1 301.7,437.2 487.1,380.6 329.5,380.6 577.7,437.2 580.3,437.2 413.3,405.8 101.1,386.9 563.2,261.1 337.7,456.1 533.2,456.1 456.4,355.5 325,261.1 346.7,393.2 514.9,430.9 579.3,437.2 400.3,386.9 279.3,430.9 590.4,380.6 570.1,412.1 391.2,386.9 288.9,405.8 182.5,424.7 328,424.7 587.3,342.9 330,349.2 546.4,380.6 590.3,361.8 146.6,424.7 399.4,399.5 128.5,342.9 448.8,405.8 306.3,386.9 542.8,443.5 575.3,342.9 536.4,443.5 341,399.5 575.3,236 167.1,342.9 553.8,342.9 578.8,380.6 592.3,374.3 551,324 401.7,298.9 313.4,412.1 209.5,424.7 441.8,311.4 156.1,437.2 325.6,393.2 394.1,342.9 581.1,405.8 487.1,456.1 381.4,412.1 464,412.1 167.5,424.7 577.8,324 549.1,317.7 498.6,386.9 370.7,380.6 324.1,324 350,380.6 481.4,261.1 267,393.2 195.5,456.1 518.3,424.7 410.4,443.5 217,380.6 493.5,418.4 414.4,443.5 207.7,424.7 560.9,342.9 337.6,424.7 426.2,380.6 193.1,418.4 188.7,418.4 550.1,261.1 429.9,449.8 304,317.7 556.4,405.8 376.8,368 457.1,317.7 172.8,430.9 550.7,405.8 539.5,456.1 483.1,374.3 567.8,292.6 563.5,418.4 572.9,223.4 436.2,292.6 554.7,437.2 272.5,349.2 579.9,368 300.9,412.1 560.8,361.8 184.7,355.5 148.2,437.2 398,216.6 489.5,424.7 108.2,298.9 365,405.8 476.7,349.2 492.6,386.9 237.2,424.7 210.4,430.9 498.7,456.1 220.3,399.5 497.7,292.6 501.6,386.9 594.3,430.9 550.1,229.7 436.4,424.7 247.9,443.5 569.1,456.1 466.2,298.9 362.8,437.2 301.3,430.9 533.2,424.7 423.6,456.1 520.6,449.8 475.4,380.6 194,393.2 161.2,437.2 584.6,443.5 595.8,311.4 562.9,368 91.6,430.9 495.6,386.9 201.9,418.4 316.4,399.5 421,399.5 591.5,386.9 136.7,374.3 305,456.1 147.2,424.7 573.3,430.9 470.1,386.9 545.2,368 396.8,393.2 130.4,430.9 106.1,456.1 557.6,236 347.7,361.8 487.2,449.8 541.3,430.9 405.7,430.9 518.2,449.8 526.9,418.4 423.4,368 169.1,449.8 548,418.4 322.6,456.1 98.8,393.2 359.6,399.5 476.1,261.1 594.2,355.5 200.8,449.8 554,456.1 133.3,418.4 567.7,399.5 517.1,412.1 535.2,368 515.9,242.2 164.2,443.5 195.4,443.5 494.1,412.1 575.6,443.5 573.1,374.3 144,418.4 546.1,386.9 334.8,374.3 376.8,336.6 502.1,311.4 557.1,412.1 413.3,324 562.3,424.7 570,399.5 502.3,330.3 246.3,437.2 418.8,317.7 239.8,437.2 377.9,424.7 253,430.9 502.7,443.5 594.7,380.6 546.4,456.1 553.9,412.1 329.8,311.4 426.3,349.2 559,380.6 584,437.2 535.7,456.1 318.9,342.9 150.2,437.2 317.7,393.2 294.2,443.5 327.9,412.1 594.1,342.9 254.4,430.9 533.8,443.5 217.3,330.3 448.2,374.3 126.8,424.7 562.3,399.5 488,349.2 546.8,393.2 568.1,386.9 483.3,456.1 409.8,405.8 594.7,280 392.5,443.5 548.5,443.5 589.4,374.3 547.1,437.2 152.9,449.8 543.4,380.6 192.1,443.5 403.5,261.1 566.7,317.7 173.6,311.4 440.1,355.5 272.5,380.6 182,424.7 559.1,405.8 499.8,355.5 593.6,424.7 326.1,380.6 480.1,386.9 521.2,449.8 89.3,437.2 537.8,437.2 483.6,393.2 580.5,330.3 165.6,374.3 117.8,449.8 548.7,342.9 265.6,456.1 328.6,418.4 185.4,374.3 127,405.8 546.4,349.2 510.8,443.5 445.2,191.4 204.4,456.1 355.3,437.2 573,405.8 578.6,336.6 528.6,399.5 391.4,393.2 140.4,418.4 587.3,405.8 573.3,418.4 286.2,443.5 334.9,355.5 458,412.1 246.9,456.1 143.6,393.2 217.8,412.1 259.4,449.8 573,386.9 546.5,317.7 483.3,342.9 427.6,399.5 396.1,399.5 562.9,361.8 551.8,393.2 562,336.6 539.6,336.6 566.5,449.8 291.9,399.5 486.3,330.3 580.2,361.8 216.4,418.4 418.7,418.4 591.9,368 331.6,380.6 479.1,261.1 564.5,380.6 277.3,355.5 554.1,355.5 553.5,405.8 226.5,437.2 382.2,443.5 587.1,380.6 544.3,437.2 537.3,368 332.1,261.1 482.7,430.9 471.4,418.4 475.5,286.3 515.6,430.9 494.3,418.4 400.3,418.4 425.7,361.8 173.7,456.1 224.9,443.5 564,430.9 405.2,443.5 444.1,443.5 472.2,380.6 471.3,342.9 540.6,449.8 203.7,449.8 316,443.5 152.2,424.7 589,412.1 555.7,380.6 401.1,393.2 392.9,380.6 157.2,399.5 576.1,374.3 588.2,330.3 508.6,380.6 550.8,405.8 369.7,437.2 563.4,317.7 570.2,443.5 422.7,430.9 560.3,311.4 594.9,368 250.7,443.5 462.6,380.6 585.7,342.9 542,443.5 550.2,317.7 563.3,336.6 225,405.8 400.6,437.2 368.1,311.4 522,418.4 250.5,399.5 172.6,449.8 469.8,424.7 327.9,317.7 537.3,449.8 570.6,386.9 460.9,405.8 538.1,393.2 418.8,437.2 508,386.9 440.9,399.5 467,456.1 149.6,443.5 493.2,223.4 567.5,443.5 507.2,386.9 356.2,399.5 357.6,456.1 589.8,368 514.7,456.1 315.6,430.9 548.4,399.5 558.3,292.6 567,437.2 284.2,430.9 560.3,317.7 423.3,393.2 489.2,449.8 267.1,305.1 399.3,405.8 465.1,330.3 203.6,336.6 422.5,380.6 366.3,456.1 497.9,424.7 571.6,424.7 596,412.1 529.4,267.4 231.3,456.1 507.5,443.5 215.1,380.6 563.2,342.9 219.8,443.5 544.6,405.8 361.1,298.9 557,342.9 184.8,437.2 163.5,456.1 432,449.8 221.4,418.4 215.7,430.9 585.8,368 567.3,342.9 457.5,424.7 75.7,430.9 563.4,305.1 233.6,456.1 170.6,368 525.6,298.9 590.5,361.8 225.7,260.6 434.7,412.1 538.6,336.6 573.9,236 535.5,349.2 575.1,336.6 477.4,412.1 526.2,456.1 561,399.5 574.4,386.9 207.8,374.3 591.7,449.8 312.1,374.3 374.7,216.6 434.8,443.5 105.7,405.8 180.3,412.1 329.7,273.7 467.8,349.2 136.9,430.9 562.1,399.5 556.7,430.9 544.6,424.7 402.4,355.5 157.7,418.4 519,430.9 280.9,361.8 442.8,443.5 518.4,317.7 513,317.7 597,393.2 525.8,443.5 165.2,368 159,368 366.3,368 574.4,324 411.9,399.5 488.4,443.5 452.2,424.7 550.1,437.2 462.1,456.1 141.5,254.4 562.9,430.9 471.2,412.1 268.3,399.5 112.3,443.5 247.6,286.3 253.9,374.3 319.8,330.3 478,456.1 243.6,386.9 530.8,456.1 573.3,393.2 491.5,261.1 558.7,380.6 200,386.9 489.6,437.2 347,330.3 498.4,424.7 566.5,393.2 574,393.2 115.4,399.5 215.8,437.2 556.3,405.8 536.8,424.7 319,424.7 532.2,349.2 462.5,443.5 487.8,349.2 359.5,305.1 302.2,456.1 218.8,386.9 580.4,273.7 592.8,349.2 551,380.6 153.1,399.5 577.9,368 435.1,424.7 558,273.7 275.7,361.8 405.7,430.9 497.2,405.8 578.9,280 360.2,430.9 532.4,336.6 153.4,456.1 549.8,405.8 211.4,430.9 172.8,456.1 576.2,456.1 454.8,374.3 544.6,393.2 140.4,430.9 288.1,449.8 503.3,349.2 245.6,456.1 519.6,424.7 471.4,248.5 507,443.5 289.3,418.4 183.3,437.2 552.5,355.5 142.9,380.6 576.7,380.6 282.7,449.8 301.1,449.8 419.9,393.2 498.3,386.9 414.6,305.1 555.6,399.5 557.7,330.3 559,456.1 581.9,424.7 250.3,449.8 552.7,286.3 233.5,418.4 448.1,412.1 577.9,336.6 153.7,456.1 145.9,342.9 173,443.5 395,437.2 270.4,437.2 337,418.4 588.2,405.8 375.5,317.7 451.3,424.7 351.7,456.1 319.4,399.5 392.4,393.2 132.9,456.1 220.3,430.9 559,317.7 497.3,361.8 390.8,412.1 173.1,424.7 582,286.3 506.7,342.9 512.6,380.6 278,449.8 552.2,292.6 161.6,443.5 308.5,292.6 458,178.8 537.4,349.2 301.3,424.7 537.4,330.3 194.7,437.2 219.1,443.5 573.1,374.3 535.4,418.4 581,311.4 167,456.1 168.8,399.5 498.6,418.4 125.6,399.5 207.7,449.8 452.6,374.3 447.9,424.7 90.6,393.2 205.1,418.4 143.8,399.5 476.2,430.9 591.5,418.4 187.3,456.1 485.2,236 417.3,443.5 530.4,368 489.7,418.4 433.8,361.8 403.6,418.4 327.8,380.6 300.4,349.2 331.9,361.8 531.8,280 202.3,336.6 554.1,418.4 559.5,405.8 202.3,349.2 578.4,443.5 591.2,380.6 256.2,393.2 226,424.7 554.6,386.9 272.4,443.5 593.2,311.4 567,412.1 575.2,254.8 326.7,418.4 566.2,430.9 334.8,418.4 82.9,430.9 262.7,405.8 293.5,449.8 138.1,437.2 420.8,418.4 551.6,355.5 510.8,449.8 557.6,399.5 267.1,386.9 158.7,405.8 556.8,374.3 179.8,374.3 494.5,412.1 397.2,418.4 567.7,361.8 553.6,361.8 584.4,437.2 475.5,430.9 565.4,368 331.8,342.9 215.7,330.3 564.3,443.5 453.5,405.8 353.3,405.8 563.4,437.2 152.3,443.5 169.5,449.8 425.8,380.6 221.4,456.1 195.1,437.2 291,449.8 576.2,311.4 430.4,399.5 496.1,424.7 596.2,449.8 278.1,399.5 540.1,374.3 585.7,386.9 492.6,393.2 467.5,424.7 145.1,210.8 306.4,317.7 575.3,399.5 576.9,317.7 442.4,399.5 205.2,355.5 139.9,349.2 351.1,412.1 165.4,424.7 146.1,374.3 557.9,449.8 555,380.6 468.3,374.3 158.9,430.9 478.8,437.2 277.5,418.4 149.9,430.9 430.4,456.1 571,324 587.9,236 232.6,393.2 472.2,456.1 346,405.8 97.8,405.8 296.2,242.2 168.2,424.7 115.7,412.1 156.8,412.1 259.5,437.2 447.8,430.9 403.3,399.5 198.5,393.2 433.1,393.2 511.2,280 173.2,386.9 507.8,443.5 299.5,456.1 495.3,349.2 353.4,393.2 166,437.2 493.7,418.4 293.4,424.7 572.4,412.1 487.6,317.7 170.7,437.2 530.8,412.1 551.2,437.2 160.9,443.5 136.7,437.2 157.5,437.2 277.4,443.5 430.1,280 308.4,430.9 542.9,374.3 240.3,374.3 536.5,355.5 495.5,386.9 361.5,380.6 202.2,449.8 488,449.8 479.1,418.4 342.3,405.8 125.1,349.2 253.9,437.2 122.1,386.9 556.2,217.1 570.1,336.6 390.1,443.5 561.8,405.8 561.6,355.5 200.8,443.5 230.5,437.2 236.5,405.8 321,418.4 558.5,412.1 574.5,424.7 152.7,380.6 149.1,430.9 275.8,424.7 275,456.1 120.9,437.2 479.6,456.1 135.3,386.9 341,342.9 501.4,217.1 370.3,399.5 428.1,430.9 423.8,336.6 590.6,330.3 564.4,317.7 515.1,424.7 506.6,443.5 509.6,443.5 390.8,456.1 553.7,449.8 580.4,449.8 485.9,418.4 594.4,393.2 462.2,386.9 454.3,443.5 252.7,355.5 380.9,449.8 405.8,430.9 357.8,412.1 171.1,437.2 188,412.1 427,424.7 504.5,449.8 211.9,368 414.8,424.7 476.9,336.6 540.9,317.7 590.4,374.3 512.1,437.2 464.7,424.7 586,355.5 456.3,449.8 490.8,380.6 348.2,222.9 288.2,456.1 486,456.1 552.5,443.5 542.6,399.5 543.2,374.3 508,456.1 356.9,305.1 569.6,418.4 488.6,336.6 139.3,405.8 571.5,368 568.3,449.8 558,430.9 430.5,349.2 452.9,418.4 529.4,449.8 119.2,443.5 105.1,361.8 559.3,336.6 289.7,443.5 373.9,456.1 525.7,456.1 319.5,210.3 309.6,412.1 269.3,437.2 181.6,223.4 329.2,437.2 303.8,405.8 310.1,443.5 492.9,380.6 173.3,380.6 387.5,393.2 483.3,349.2 465.2,342.9 186,412.1 358.3,449.8 179.4,386.9 583.4,380.6 577.5,393.2 502,449.8 524.2,437.2 210.2,317.7 345.5,405.8 132.5,368 554.3,412.1 121.4,412.1 292.4,443.5 212.6,443.5 464.1,437.2 596.4,236 562.8,355.5 205.8,317.7 389,430.9 236.5,393.2 587.8,342.9 594.8,393.2 169.8,424.7 180.8,443.5 115.7,418.4 230.4,405.8 379.2,456.1 549,443.5 580.3,355.5 595.7,437.2 368.7,361.8 574.3,399.5 452.4,280 189.5,449.8 382.4,424.7 411.4,305.1 304.6,374.3 567.8,449.8 470.6,424.7 287.4,430.9 407.5,405.8 405.4,242.2 555.9,449.8 179.7,430.9 565.2,443.5 205.5,405.8 193.9,449.8 594,342.9 217,386.9 239.7,405.8 544.6,349.2 590.6,405.8 318.5,261.1 574.4,412.1 108.4,418.4 289.9,437.2 218.5,330.3 410.5,399.5 482.9,349.2 237.9,437.2 216.7,443.5 450.9,386.9 596.5,418.4 413.8,298.9 259.2,298.9 542.1,393.2 557.7,330.3 290,386.9 248.4,456.1 555.1,399.5 335.4,311.4 579.1,386.9 216.5,430.9 497,386.9 551.7,330.3 493.3,361.8 584.9,386.9 583.5,449.8 123.2,424.7 524.4,449.8 582.3,418.4 264.3,449.8 594.4,368 561.7,424.7 583.5,317.7 228.5,273.7 457,298.9 576.5,437.2 597.4,311.4 247.4,430.9 191.5,437.2 547.2,324 554.6,342.9 164.8,393.2 273.7,229.7 240.8,443.5 585.6,324 579.7,437.2 322.7,412.1 547.3,342.9 563.6,342.9 481.7,298.9 362.9,456.1 533.6,456.1 180.4,437.2 483.5,424.7 563.8,437.2 109.5,305.1 512.2,399.5 204.6,405.8 573.4,342.9 399.6,336.6 349.2,393.2 543,236 414.3,393.2 376.7,349.2 543.3,342.9 153.1,368 579.3,355.5 535,443.5 428.4,418.4 509,399.5 596.2,317.7 437.3,380.6 559.8,336.6 551,336.6 135.6,412.1 541.6,437.2 274.5,437.2 281.8,286.3 487.2,405.8 572,393.2 122.6,317.7 352.8,386.9 578.8,405.8 592,311.4 467.3,424.7 404.8,405.8 541.8,311.4 594.7,380.6 155.7,443.5 562.2,342.9 162.5,437.2 374.8,449.8 577,374.3 446.4,437.2 590.4,449.8 355.5,405.8 103.6,424.7 527.4,311.4 254.3,355.5 572,236 504.1,342.9 481.6,418.4 164.3,418.4 524.9,418.4 365.2,456.1 192.3,424.7 151.1,437.2 557.1,349.2 560.8,405.8 346.4,361.8 593.8,336.6 593.2,443.5 349.3,424.7 392.5,317.7 505.3,204.5 557,449.8 596.5,311.4 355.1,336.6 557.7,380.6 568.8,330.3 582.5,443.5 130.8,443.5 279.9,443.5 591.8,374.3 216.4,342.9 505.1,355.5 577.6,424.7 590.1,342.9 546.2,456.1 351.9,424.7 423.4,386.9 215.5,386.9 550.1,443.5 584.7,336.6 437.7,443.5 478.7,418.4 575.2,386.9 551.7,443.5 535.1,393.2 197.9,374.3 400.8,418.4 516.6,456.1 499.6,443.5 458.4,405.8 467.4,386.9 152.4,437.2 157.9,437.2 286.1,399.5 346,456.1 594.1,374.3 591.3,399.5 387.3,437.2 571.9,399.5 498.7,393.2 572.3,336.6 176.9,437.2 514.9,456.1 364.2,418.4 580.7,305.1 555.7,412.1 555.6,393.2 469.3,336.6 154.6,437.2 302,330.3 350.2,443.5 543.6,399.5 555.1,443.5 588.3,380.6 451.9,355.5 269.4,430.9 595,405.8 378.4,424.7 477.4,386.9 436.4,223.4 555.3,430.9 568.2,412.1 466.8,456.1 500.4,368 449.3,443.5 558.2,374.3 543.7,386.9 592.1,443.5 478.1,443.5 558.4,374.3 536.1,368 415.9,443.5 325.2,393.2 204.7,437.2 227.4,449.8 286.5,424.7 593.4,418.4 348.6,405.8 365.9,368 539.1,374.3 560.6,393.2 409.5,412.1 502.3,449.8 578,405.8 186,424.7 148.9,393.2 515.6,456.1 489.3,267.4 556.2,380.6 562.5,342.9 277.9,449.8 406.9,405.8 490.6,254.8 577.2,368 405.4,412.1 452.3,449.8 557.2,311.4 103.8,437.2 318.3,405.8 130,424.7 570.3,349.2 281.3,437.2 267.4,361.8 425.4,399.5 494.1,437.2 549.4,449.8 304.2,298.9 592,380.6 584.3,449.8 461,437.2 528.7,430.9 127.3,361.8 519.2,437.2 202.7,437.2 295.4,336.6 539.5,286.3 191.4,342.9 133.9,430.9 237.9,412.1 577.2,393.2 554.1,355.5 429.7,418.4 406.1,399.5 573.8,449.8 196.8,424.7 279.5,330.3 571.2,330.3 186.8,449.8 222.9,437.2 173.7,399.5 481.7,386.9 372,349.2 582.4,430.9 371.1,342.9 582.7,311.4 445.5,399.5 551.9,399.5 337.3,355.5 423.3,424.7 541.2,324 362.4,456.1 352.2,336.6 156,380.6 474.5,248.5 533.4,380.6 362.7,399.5 441.5,393.2 492.3,424.7 205.4,386.9 360.5,405.8 312.3,430.9 584.1,342.9 119.3,386.9 511.1,355.5 279.7,418.4 312.9,361.8 127.2,443.5 556.5,336.6 571.5,405.8 532.6,380.6 161.4,430.9 572.2,437.2 548.1,380.6 258.4,449.8 173.6,405.8 160.8,405.8 539,430.9 446.4,443.5 189.2,412.1 569.8,242.2 590.6,342.9 563.3,311.4 494.1,261.1 550.1,449.8 112.3,386.9 454.6,443.5 316.9,292.6 238.1,456.1 294.3,424.7 308.7,437.2 302.3,430.9 271.9,449.8 240.4,273.7 507,368 132.3,449.8 470.4,412.1 580.1,317.7 480.5,368 551.6,317.7 261.8,424.7 478.2,286.3 569.7,393.2 244.9,430.9 489.9,443.5 233.7,418.4 243.8,449.8 321.8,298.9 325.3,443.5 261.5,405.8 392.2,430.9 570.7,399.5 566.6,273.7 570.5,273.7 129.4,449.8 326.7,437.2 479.3,430.9 267.1,374.3 230.1,399.5 596.5,399.5 514,443.5 205.8,437.2 110.4,412.1 466.6,424.7 571.5,456.1 155.5,437.2 170.3,456.1 211.5,449.8 586.9,456.1 594.8,437.2 552.4,324 286.3,437.2 576.4,317.7 502.4,424.7 190.2,449.8 566.2,355.5 535,437.2 541.8,418.4 142.2,374.3 573.4,412.1 447.1,437.2 594.5,374.3 310.5,437.2 221.3,399.5 530.1,424.7 168.6,412.1 485.9,286.3 253.6,222.9 560.3,443.5 568.6,368 335.7,349.2 283.1,424.7 438,424.7 408.5,424.7 558.3,418.4 318,235.5 575.2,430.9 511.4,342.9 514.4,437.2 563,336.6 575.2,368 529.1,305.1 586,430.9 176.1,386.9 541.6,374.3 591.6,305.1 576.3,292.6 580.6,386.9 153.8,430.9 451,418.4 235.5,355.5 574.1,134.7 594.8,305.1 386,317.7 529.8,424.7 245.8,430.9 411.4,424.7 562.4,430.9 596.3,336.6 476.4,412.1 188.4,399.5 406.3,424.7 386.2,342.9 552.6,412.1 95.7,355.5 474.7,386.9 539.8,273.7 275.3,305.1 453.4,443.5 527.8,393.2 580,386.9 314.4,380.6 226.3,430.9 556.7,305.1 559,418.4 153.5,430.9 444.1,456.1 287.3,443.5 502.5,424.7 358.2,298.9 541.1,254.8 226.2,443.5 547.9,374.3 483.9,317.7 527.1,172.5 491,412.1 393.1,437.2 320.6,153.5 388.7,418.4 568.2,424.7 348.2,456.1 372.4,437.2 550.8,430.9 565.9,405.8 578.6,424.7 188.2,374.3 541.7,380.6 571.3,424.7 140.8,449.8 558.6,430.9 581.7,386.9 539.6,456.1 243.6,393.2 355.1,380.6 576.5,317.7 275.9,449.8 394.9,424.7 145.2,437.2 561.8,399.5 343.6,443.5 464.9,298.9 441.4,418.4 570.5,456.1 551.6,399.5 535.9,217.1 196.8,399.5 546.1,437.2 150.4,430.9 360.4,386.9 553.7,424.7 276.3,430.9 315.2,330.3 264.2,437.2 309,405.8 569.1,342.9 544.6,437.2 591.7,280 589.7,456.1 578.4,368 170.9,380.6 532.9,456.1 167.1,399.5 347.9,324 235.7,393.2 565.8,412.1 232.7,437.2 273.7,437.2 406.2,342.9 343.3,418.4 561.8,324 334.1,424.7 564.8,393.2 203,286.3 556.1,393.2 557.3,355.5 594.2,267.4 559.3,305.1 199.3,267.4 587,393.2 583.1,399.5 115,443.5 258.3,405.8 485.9,430.9 400.6,412.1 597.5,248.5 430.2,399.5 551.9,386.9 372.6,317.7 561.1,412.1 561.7,418.4 219.5,430.9 595.8,355.5 509.8,380.6 132.6,380.6 403.5,324 237.9,456.1 549.4,424.7 329,324 560.2,342.9 206.5,405.8 218.8,437.2 588,443.5 574.3,456.1 136.2,430.9 460.8,386.9 591.2,311.4 540.5,324 578.9,336.6 130.5,430.9 584.1,456.1 520.5,317.7 490.1,393.2 407.9,399.5 201.3,424.7 324.2,386.9 120.4,424.7 339.8,386.9 444,418.4 316.4,386.9 166.7,443.5 593.6,449.8 417.7,153.5 564.2,430.9 382.5,456.1 150.5,393.2 588,355.5 158.5,443.5 506.7,380.6 539.8,418.4 547.4,405.8 198.9,342.9 442.3,317.7 319.3,298.9 297,399.5 492.1,418.4 508.6,204.5 548.4,393.2 595.5,412.1 148.9,405.8 333.8,393.2 388.5,292.6 282.4,418.4 334,380.6 539.7,324 554.6,424.7 543.1,330.3 187.8,424.7 568.2,311.4 500.6,424.7 543.7,336.6 375.6,437.2 551.8,449.8 514.7,449.8 300.2,298.9 585.2,443.5 549.8,336.6 370.6,405.8 429.7,412.1 153.5,437.2 494.5,374.3 548.6,412.1 543.3,324 139.6,449.8 542.3,324 280.2,456.1 572,248.5 371,456.1 185.3,418.4 585.2,311.4 385.1,449.8 550.2,361.8 484.5,412.1 542.9,349.2 546.6,368 143.1,456.1 488.5,456.1 161.2,430.9 492.5,393.2 486,412.1 180.2,260.6 588.6,424.7 463.9,311.4 220.2,368 472.4,418.4 588.7,286.3 205.9,236 218.9,456.1 293.5,449.8 544.5,280 310.3,349.2 376.7,424.7 588.4,311.4 583.9,418.4 392.5,449.8 183.3,386.9 470.7,393.2 242.2,437.2 472.4,386.9 537.8,324 498.2,449.8 218.5,418.4 199.8,430.9 449.4,374.3 455.2,437.2 487.6,443.5 543.5,330.3 582.7,336.6 571.2,374.3 465.1,380.6 579.3,456.1 578.9,437.2 281.7,374.3 554.4,412.1 589.5,311.4 559.7,437.2 523.9,443.5 218.6,430.9 540.1,456.1 543.5,355.5 489.9,393.2 590.2,380.6 142.9,399.5 239.8,399.5 288.2,449.8 440.9,368 589.6,399.5 354.4,449.8 568,430.9 578.9,355.5 562.7,405.8 399,405.8 585,386.9 547.5,330.3 118.5,418.4 552.2,393.2 585.7,361.8 588.7,456.1 444.4,405.8 112.2,330.3 518,280 257.3,449.8 91.1,443.5 546.2,412.1 591.7,405.8 564.4,280 482.6,449.8 514.9,280 312.2,424.7 277.2,437.2 549.2,324 387.3,449.8 261.8,273.7 300.2,456.1 508.4,424.7 443.4,386.9 559.7,349.2 416.1,393.2 553.4,305.1 597.4,273.7 141.8,355.5 537.1,418.4 513.6,286.3 534.9,330.3 361.6,430.9 207.4,443.5 581.9,393.2 478.2,248.5 573.3,412.1 250.1,349.2 590.5,355.5 348.6,456.1 270.5,443.5 363,443.5 496.8,443.5 294.2,393.2 572.5,430.9 356.4,430.9 85.4,430.9 309.4,449.8 537.7,324 488.6,286.3 293.4,418.4 313.3,443.5 145.2,399.5 533.3,399.5 411.3,342.9 304.6,418.4 578,286.3 171.8,424.7 556.9,355.5 556.7,405.8 569.3,330.3 593.8,418.4 554.7,336.6 494.7,374.3 290.6,399.5 574.2,330.3 583.7,342.9 596.3,223.4 156.5,456.1 400.5,399.5 301.6,430.9 157.7,393.2 148.4,430.9 557.3,437.2 555.6,261.1 518.2,424.7 500.5,405.8 245.4,405.8 393.2,380.6 286,305.1 561,443.5 349.2,430.9 211,349.2 580.5,361.8 154.2,443.5 487,374.3 361.5,412.1 548.6,430.9 291.6,405.8 142.7,437.2 581.6,412.1 481.5,418.4 325.6,443.5 411.7,443.5 586.4,418.4 596.4,374.3 269.9,399.5 496.2,393.2 238.7,342.9 431.5,399.5 531.2,305.1 115.3,380.6 588.3,324 351,437.2 296.5,443.5 551.9,216.6 266.7,399.5 491.7,405.8 504.4,418.4 152.6,368 568.6,405.8 290.7,443.5 545.3,361.8 551.4,311.4 120.2,405.8 521.6,430.9 522.5,386.9 472.3,349.2 506,374.3 576.3,443.5 495.6,456.1 287.1,437.2 575.7,324 505,386.9 537.6,330.3 558.3,399.5 540.3,336.6 307.9,324 282.9,449.8 152.9,405.8 575.9,430.9 131.2,393.2 182.3,374.3 211.7,380.6 487.1,242.2 581.2,311.4 391.1,443.5 541.1,412.1 580.2,424.7 394.1,443.5 250.2,430.9 231.6,418.4 573.5,443.5 485.7,418.4 246.2,437.2 265.2,418.4 583.5,311.4 407.6,412.1 270.9,399.5 317.3,456.1 493.6,405.8 229.2,418.4 499.4,449.8 532.7,342.9 402.2,399.5 380,443.5 351,449.8 416.8,443.5 577.2,286.3 288.6,443.5 275.3,437.2 465.7,380.6 501.4,424.7 127.7,430.9 544.9,393.2 270.5,412.1 511.9,380.6 553.2,380.6 159.1,456.1 500.3,449.8 573.1,399.5 432,374.3 235.8,349.2 324.1,286.3 563.2,405.8 302.3,393.2 518.6,456.1 405.1,418.4 220,147.2 585.7,380.6 489.7,430.9 316.5,298.9 546.1,355.5 224.6,399.5 565.5,424.7 502.4,355.5 383.8,443.5 438.1,418.4 548.9,393.2 475.4,418.4 557.2,456.1 240.8,399.5 342.6,324 360.5,456.1 574.9,380.6 149.2,456.1 558.7,443.5 300.8,449.8 578.1,311.4 295.1,405.8 295.6,399.5 532.5,430.9 449.9,449.8 338.7,361.8 547,386.9 490.8,443.5 234.4,355.5 492.3,449.8 190.2,430.9 382.2,443.5 575.6,368 562,418.4 591.8,424.7 407.3,317.7 482.8,437.2 404,449.8 168.2,380.6 232.5,418.4 554.1,324 379.3,456.1 450.8,437.2 392.3,437.2 357.4,399.5 563,374.3 267.1,437.2 321.9,361.8 114.1,380.6 169.7,430.9 584.8,443.5 356,443.5 237.1,386.9 560.6,412.1 535.2,399.5 594.5,223.4 221.3,443.5 159,456.1 84.3,393.2 198.6,443.5 124.4,424.7 322.5,443.5 137.2,437.2 409.7,412.1 382.7,298.9 166.3,443.5 316.9,412.1 300.7,336.6 463.3,342.9 290.7,399.5 268.6,456.1 368.3,456.1 287.7,286.3 589.6,336.6 373.6,424.7 182.9,412.1 363.7,412.1 573.2,317.7 251.2,405.8 296.5,380.6 547,424.7 531,456.1 341.3,456.1 432.7,380.6 258.2,437.2 570,355.5 298.1,399.5 586.6,418.4 535.9,361.8 425.6,424.7 537.7,443.5 308.6,361.8 541.3,456.1 554.2,405.8 178.2,393.2 220.8,399.5 457.9,361.8 573.9,368 438.8,424.7 321.5,437.2 592.1,393.2 418.8,412.1 229.1,430.9 189.8,456.1 595.6,443.5 477.5,292.6 327.8,437.2 499.9,456.1 590.5,405.8 465.9,437.2 587.9,443.5 381.1,456.1 274.5,456.1 581.1,374.3 581.2,280 548.3,261.1 565.4,405.8 516.6,418.4 576.2,456.1 572.4,443.5 583.1,437.2 555.3,456.1 558.9,456.1 595.2,374.3 99.4,349.2 295.2,418.4 107.4,443.5 593,305.1 391.6,443.5 266.1,292.6 584.6,405.8 308.5,449.8 533,412.1 144.4,336.6 147.5,443.5 186.2,311.4 317.2,430.9 554.4,298.9 560.1,405.8 597.1,267.4 193.6,424.7 586,437.2 183.3,399.5 550.7,418.4 325.3,449.8 559.5,273.7 464.6,311.4 508.2,355.5 567.8,342.9 593.3,368 590.7,399.5 325.7,324 187,430.9 595.2,229.7 571.1,336.6 306.6,449.8 326.4,223.4 165.4,456.1 393.4,424.7 576,342.9 323,172.5 175.4,424.7 198.8,449.8 324.5,456.1 531.5,424.7 242.7,355.5 226,437.2 434.9,418.4 325.5,386.9 222.3,456.1 464.9,443.5 584.5,324 337.8,437.2 156.2,443.5 201.7,424.7 308.6,298.9 261.5,437.2 533,456.1 155.6,430.9 336,393.2 217.3,443.5 206.5,437.2 159,437.2 529.4,418.4 565.2,330.3 586.2,443.5 161.5,368 501.4,280 498.3,456.1 109.1,386.9 382.2,449.8 275.9,449.8 276.9,368 261.7,456.1 165.4,437.2 94.6,437.2 121.4,424.7 261.8,449.8 463.1,449.8 384.2,456.1 284.7,437.2 475.1,449.8 548.2,298.9 218.4,430.9 579.8,317.7 398.2,336.6 499.3,437.2 393.6,430.9 491.8,430.9 169.9,443.5 575.8,342.9 513.6,456.1 511.5,393.2 493.3,317.7 530.6,430.9 265.7,456.1 586.4,456.1 491.5,456.1 573.5,317.7 133.3,361.8 305.8,430.9 247.4,456.1 492.3,456.1 573,330.3 195.5,418.4 553.1,386.9 442.2,305.1 137.4,330.3 540.9,418.4 140.6,437.2 489.5,374.3 79,456.1 492.3,374.3 535.4,336.6 539,456.1 167.7,393.2 580.8,386.9 585.8,443.5 578.8,418.4 392.3,273.7 232.4,430.9 580.1,456.1 512,311.4 262.7,418.4 379.4,437.2 517.1,443.5 179.8,456.1 521.5,424.7 586.8,393.2 125.3,437.2 590.3,273.7 581.8,374.3 187,456.1 573.8,324 190.6,418.4 118,374.3 312.8,449.8 345.9,305.1 580.8,374.3 593.4,324 581.7,437.2 138.9,449.8 582.1,355.5 549.4,349.2 468.8,292.6 590.7,229.7 396.5,242.2 500.2,380.6 586.6,437.2 494.2,456.1 435.2,386.9 544,380.6 420.9,286.3 582.4,368 278.1,380.6 419.1,412.1 467.8,418.4 565.5,349.2 393.4,412.1 274.8,399.5 176.7,430.9 292.5,418.4 588.3,380.6 502.4,380.6 550.3,336.6 540.3,437.2 408.6,342.9 218.7,361.8 523.4,305.1 595.8,311.4 162.8,374.3 569.5,405.8 174.3,317.7 530.4,399.5 305.6,456.1 271.1,456.1 402.5,330.3 319.1,386.9 401.6,399.5 156,456.1 590.2,153.5 521,456.1 430.6,456.1 569,317.7 550.2,305.1 145.8,456.1 580,374.3 175.4,449.8 437.9,393.2 563.8,399.5 269,368 410.6,399.5 590.2,298.9 494.3,405.8 500.5,355.5 554,355.5 374.6,424.7 584.2,399.5 517.7,449.8 101.9,418.4 421.1,197.7 256.7,430.9 508.1,393.2 187.9,399.5 584,368 537.8,280 93.2,393.2 448.4,424.7 555.1,317.7 150.9,456.1 533.4,305.1 168.6,424.7 230.2,430.9 517.1,380.6 126.4,380.6 561,380.6 573.7,456.1 556.9,456.1 591,292.6 592.7,298.9 587.2,424.7 590.1,405.8 496.2,380.6 245.8,456.1 522.6,393.2 355.2,242.2 142.6,449.8 141.9,405.8 588.7,355.5 401.8,443.5 571.7,430.9 302.4,437.2 152.9,437.2 339.1,393.2 161.2,437.2 113.6,456.1 538.3,330.3 332.8,399.5 439.2,330.3 455.8,286.3 352.1,437.2 565,311.4 541.7,336.6 571.5,336.6 570.6,317.7 158.3,430.9 546.1,424.7 128.9,424.7 459.6,456.1 452.1,405.8 212,380.6 570.7,374.3 403.3,412.1 298.4,437.2 298.1,267.4 546.5,386.9 337.9,380.6 467,336.6 426.6,449.8 128,418.4 135.5,380.6 552.1,336.6 594.4,412.1 182.3,386.9 481.4,424.7 319.2,418.4 566.2,361.8 519.7,368 289.3,399.5 205.7,449.8 408.1,412.1 549.8,393.2 507.8,386.9 139.3,424.7 553.7,443.5 529.8,185 271.6,361.8 208.9,386.9 575.4,267.4 566.8,443.5 595.8,399.5 527.8,418.4 384.1,456.1 296.4,449.8 414,418.4 288,393.2 595.9,374.3 517.5,449.8 554.8,380.6 564,449.8 457.8,437.2 518.3,443.5 148.4,361.8 251.5,456.1 559.3,374.3 153.2,456.1 554.8,361.8 576.7,386.9 476.9,248.5 519.1,286.3 267.5,443.5 565.7,330.3 272.1,393.2 522.1,336.6 236.6,418.4 346,449.8 583.5,324 514.6,449.8 196.5,393.2 451,374.3 193.7,449.8 448.9,399.5 563.6,412.1 397.4,330.3 468.2,330.3 560.8,405.8 298.7,456.1 568.8,430.9 500,324 574.3,386.9 492.8,443.5 548.2,380.6 578.1,405.8 576.6,336.6 243.2,443.5 213.7,430.9 578.9,298.9 497.7,430.9 554.7,280 231.1,273.7 513.5,380.6 182.9,449.8 270.2,336.6 556.7,305.1 164.4,430.9 164,437.2 229,456.1 560.6,305.1 403.9,430.9 581.1,324 251,430.9 471.6,393.2 553,437.2 580.5,393.2 559.6,399.5 500.6,449.8 169.7,430.9 486,437.2 351.7,424.7 386.6,456.1 570.4,430.9 438.4,393.2 140.3,399.5 337.9,273.7 406.1,412.1 464.2,405.8 181.1,424.7 534,349.2 152.6,430.9 566.2,368 579.9,380.6 527.9,349.2 573.3,386.9 583.3,393.2 571.6,399.5 591.9,418.4 287.5,393.2 351.8,355.5 532.8,393.2 563.4,349.2 304.5,449.8 219.3,437.2 588.9,456.1 480.4,456.1 564.4,324 136.8,405.8 278.3,449.8 454.8,393.2 321.4,399.5 585,386.9 297.7,430.9 583,386.9 323.2,412.1 451.7,386.9 188.7,437.2 354.2,456.1 100.2,437.2 179.8,399.5 237.8,437.2 503.3,386.9 319.9,456.1 434,399.5 518.2,330.3 540.9,374.3 551.4,430.9 565.4,324 564.6,399.5 224.7,443.5 354.1,336.6 430,449.8 543,412.1 584.8,443.5 530.3,456.1 557.6,280 430.5,311.4 363.1,393.2 409.1,399.5 563.9,324 527.5,449.8 199.3,456.1 236.1,456.1 575.9,399.5 429.4,380.6 445.2,368 486.8,305.1 526.7,430.9 136.7,456.1 282.2,368 535.6,292.6 315,374.3 276.4,456.1 390.4,430.9 473.8,349.2 134.5,430.9 402.4,424.7 585.1,349.2 584.8,248.5 587,368 487.1,418.4 139.5,374.3 464,342.9 324.2,368 185.9,443.5 575.5,330.3 478.9,412.1 324,204 440.5,456.1 153.4,418.4 508.1,254.8 122.8,405.8 320.9,405.8 169.8,418.4 582.7,386.9 215,443.5 314.6,430.9 556.8,355.5 178.1,405.8 491.2,418.4 155.2,393.2 540.2,443.5 278.4,437.2 196.3,430.9 109.9,443.5 544,430.9" fill="none" stroke="none" marker-start="url(#mk)" marker-mid="url(#mk)" marker-end="url(#mk)"/>
<path d="M70.6 462C71.9 461.8 75.9 461.3 78.6 460.9C81.3 460.5 83.9 460.1 86.6 459.7C89.3 459.3 91.9 458.9 94.6 458.4C97.3 457.9 99.9 457.5 102.6 457C105.3 456.4 107.9 455.9 110.6 455.4C113.3 454.8 115.9 454.2 118.6 453.6C121.3 453 123.9 452.3 126.6 451.7C129.3 451 131.9 450.3 134.6 449.5C137.3 448.8 139.9 448 142.6 447.2C145.3 446.3 147.9 445.5 150.6 444.6C153.3 443.6 155.9 442.7 158.6 441.6C161.3 440.6 163.9 439.5 166.6 438.4C169.3 437.2 171.9 436 174.6 434.7C177.3 433.4 179.9 432 182.6 430.5C185.3 429 187.9 427.4 190.6 425.8C193.3 424.2 195.9 422.4 198.6 420.7C201.3 419 203.9 417.2 206.6 415.4C209.3 413.6 211.9 411.8 214.6 409.9C217.3 408.1 219.9 406.2 222.6 404.4C225.3 402.5 227.9 400.6 230.6 398.7C233.3 396.8 235.9 394.8 238.6 392.9C241.3 390.9 243.9 388.9 246.6 386.9C249.3 385 251.9 383 254.6 380.9C257.3 378.9 259.9 376.9 262.6 374.8C265.3 372.7 267.9 370.7 270.6 368.6C273.3 366.5 275.9 364.4 278.6 362.2C281.3 360.1 283.9 358 286.6 355.8C289.3 353.6 291.9 351.5 294.6 349.3C297.3 347.1 299.9 344.9 302.6 342.6C305.3 340.4 307.9 338.2 310.6 335.9C313.3 333.7 315.9 331.4 318.6 329.1C321.3 326.8 323.9 324.5 326.6 322.2C329.3 319.9 331.9 317.6 334.6 315.2C337.3 312.9 339.9 310.5 342.6 308.1C345.3 305.8 347.9 303.4 350.6 301C353.3 298.6 355.9 296.2 358.6 293.7C361.3 291.3 363.9 288.9 366.6 286.4C369.3 284 371.9 281.5 374.6 279.1C377.3 276.6 379.9 274.1 382.6 271.6C385.3 269.1 387.9 266.6 390.6 264.1C393.3 261.6 395.9 259.1 398.6 256.5C401.3 254 403.9 251.5 406.6 248.9C409.3 246.4 411.9 243.8 414.6 241.2C417.3 238.7 419.9 236.1 422.6 233.5C425.3 230.9 427.9 228.4 430.6 225.8C433.3 223.2 435.9 220.6 438.6 218C441.3 215.3 443.9 212.7 446.6 210.1C449.3 207.5 451.9 204.9 454.6 202.2C457.3 199.6 459.9 197 462.6 194.3C465.3 191.7 467.9 189.1 470.6 186.4C473.3 183.8 475.9 181.1 478.6 178.5C481.3 175.8 483.9 173.2 486.6 170.5C489.3 167.9 491.9 165.2 494.6 162.5C497.3 159.9 499.9 157.2 502.6 154.6C505.3 151.9 507.9 149.2 510.6 146.6C513.3 143.9 515.9 141.3 518.6 138.6C521.3 136 523.9 133.3 526.6 130.7C529.3 128.1 531.9 125.5 534.6 122.9C537.3 120.3 539.9 117.7 542.6 115.1C545.3 112.6 547.9 110 550.6 107.5C553.3 105 555.9 102.5 558.6 100C561.3 97.5 563.9 95.1 566.6 92.7C569.3 90.3 571.9 87.9 574.6 85.5C577.3 83.2 579.9 80.9 582.6 78.7C585.3 76.5 588.1 74.3 590.6 72.4C593.1 70.5 596.6 68.1 597.8 67.3L597.8 91" fill="none" stroke="#000" stroke-width="3.7" stroke-linejoin="round"/>
<path d="M84 461.9V461.3h0.5V461.1h0.5V460.8h0.5V461.4h0.5V461.7h0.5V461.6h0.5V460.7h0.5V461.1h0.5V461.4h0.5V461.7h0.5V461.6h0.5V461.7h0.5V461.6h0.5V461.4h0.5V461.5h0.5V460.6h0.5V461.7h0.5V461.6h0.5V460.8h0.5V461.3h0.5V461.6h0.5V461.4h0.5V459.7h0.5V460.9h0.5V461.6h0.5V461.5h0.5V461.9h0.5V460.9h0.5V461.4h0.5V461.2h0.5V461.6h0.5V461.1h0.5V461.6h0.5V461.4h0.5V461.7h0.5V461.6h0.5V459.3h0.5V461.4h0.5V460.7h0.5V461.3h0.5V461.4h0.5V461.8h0.5V461.4h0.5V460.3h0.5V461.6h0.5V461.3h0.5V460.8h0.5V461.8h0.5V461.7h0.5V460.7h0.5V461.8h0.5V460.3h0.5V461.7h0.5V461.5h0.5V461.4h0.5V461.6h0.5V461.5h0.5V461.8h0.5V460h0.5V461.8h0.5V461.4h0.5V458.8h0.5V459.2h0.5V461.4h0.5V460.7h0.5V458.6h0.5V460.6h0.5V461.6h0.5V461.3h0.5V460.5h0.5V461.7h0.5V461.6h0.5V461.8h0.5V461.1h0.5V461.6h0.5V457.3h0.5V459h0.5V461.4h0.5V461.5h0.5V459.4h0.5V460.2h0.5V460.4h0.5V461.2h0.5V460.7h0.5V461.8h0.5V459.4h0.5V461.5h0.5V461.5h0.5V461.3h0.5V461.1h0.5V461.3h0.5V461h0.5V461.3h0.5V461.2h0.5V460.9h0.5V461h0.5V461.1h0.5V461.8h0.5V461.4h0.5V461.2h0.5V461.5h0.5V461.8h0.5V461.8h0.5V456.3h0.5V461.5h0.5V460.8h0.5V461.5h0.5V460.4h0.5V461.7h0.5V461.6h0.5V461.5h0.5V461.2h0.5V461.4h0.5V461.4h0.5V460.3h0.5V461.9h0.5V458.4h0.5V461.9h0.5V461.4h0.5V461.6h0.5V461.8h0.5V461.5h0.5V456.3h0.5V460.5h0.5V458.5h0.5V461.4h0.5V460.8h0.5V461.9h0.5V461.9h0.5V460.7h0.5V461.8h0.5V461.8h0.5V461.6h0.5V461.4h0.5V461.6h0.5V461.4h0.5V461.6h0.5V461h0.5V461.4h0.5V461.4h0.5V458.7h0.5V461.1h0.5V461.4h0.5V461.5h0.5V460.2h0.5V460.9h0.5V461.3h0.5V455.4h0.5V461.7h0.5V460.8h0.5V461.2h0.5V461.6h0.5V460.5h0.5V461.5h0.5V459.4h0.5V461.6h0.5V461h0.5V461.9h0.5V460.5h0.5V459.1h0.5V460.1h0.5V460.2h0.5V460.9h0.5V461.7h0.5V461.8h0.5V461.3h0.5V461.8h0.5V461.4h0.5V460.8h0.5V461.8h0.5V461.1h0.5V461.3h0.5V461.2h0.5V461.6h0.5V461.5h0.5V461.8h0.5V461.7h0.5V461.3h0.5V459.8h0.5V461.5h0.5V461h0.5V461.4h0.5V461.3h0.5V461.5h0.5V461.3h0.5V461.1h0.5V460.2h0.5V461.8h0.5V461.7h0.5V459.5h0.5V459.4h0.5V456.6h0.5V461.1h0.5V461.2h0.5V461h0.5V460.7h0.5V461.6h0.5V456.8h0.5V461.5h0.5V461.4h0.5V459.9h0.5V461.9h0.5V461.7h0.5V461.6h0.5V461.2h0.5V461.2h0.5V461.5h0.5V461.9h0.5V459.1h0.5V461.4h0.5V457.2h0.5V460.9h0.5V460.6h0.5V461.5h0.5V458.8h0.5V461.4h0.5V461.1h0.5V461.7h0.5V453.6h0.5V456.7h0.5V459.8h0.5V460h0.5V460.4h0.5V461.3h0.5V461.9h0.5V461.9h0.5V461.6h0.5V455.7h0.5V461.6h0.5V461.6h0.5V461.4h0.5V457.6h0.5V461.8h0.5V459.6h0.5V461.8h0.5V461.1h0.5V461.6h0.5V461.5h0.5V461.5h0.5V460.6h0.5V461.3h0.5V460.9h0.5V458.9h0.5V460.5h0.5V461.7h0.5V459.3h0.5V461.5h0.5V461.8h0.5V461.6h0.5V459.5h0.5V458.2h0.5V461.4h0.5V461.7h0.5V461.8h0.5V461.6h0.5V461.6h0.5V461.4h0.5V461.3h0.5V461.4h0.5V460.5h0.5V461.1h0.5V461.3h0.5V458.6h0.5V459.6h0.5V460.1h0.5V461.6h0.5V458.3h0.5V461.1h0.5V460.9h0.5V460.9h0.5V461.8h0.5V461.2h0.5V460.5h0.5V460.4h0.5V460.5h0.5V456.9h0.5V461.9h0.5V459.4h0.5V460.2h0.5V458.4h0.5V461.9h0.5V453.9h0.5V461.8h0.5V459.3h0.5V460.9h0.5V459.5h0.5V461.1h0.5V459.1h0.5V461.1h0.5V460h0.5V460.4h0.5V459h0.5V461.6h0.5V461.6h0.5V460.6h0.5V461.8h0.5V461h0.5V461.7h0.5V461h0.5V461.9h0.5V461.6h0.5V461h0.5V461.7h0.5V460h0.5V460.9h0.5V461.4h0.5V461.8h0.5V461.1h0.5V461.4h0.5V461.5h0.5V461.9h0.5V461.6h0.5V461.6h0.5V460.4h0.5V461.6h0.5V461.6h0.5V458h0.5V454.7h0.5V461.2h0.5V460.2h0.5V461.7h0.5V461.5h0.5V461.8h0.5V461.2h0.5V461.5h0.5V458.6h0.5V461.7h0.5V461.6h0.5V460.1h0.5V456.5h0.5V461.5h0.5V461.8h0.5V458.6h0.5V461.9h0.5V459.9h0.5V461.8h0.5V459.2h0.5V458.7h0.5V461.7h0.5V461.3h0.5V461.6h0.5V461.7h0.5V461h0.5V461.7h0.5V461.5h0.5V453.1h0.5V461h0.5V460.1h0.5V461.8h0.5V461.5h0.5V461.3h0.5V461.3h0.5V460.4h0.5V453.7h0.5V460.1h0.5V452.6h0.5V461.9h0.5V460.5h0.5V461.3h0.5V460.7h0.5V460.9h0.5V457.6h0.5V459.8h0.5V460.8h0.5V460.6h0.5V461.6h0.5V461.3h0.5V461.8h0.5V459.3h0.5V461.5h0.5V458.6h0.5V461.8h0.5V458.1h0.5V461.5h0.5V459h0.5V461.6h0.5V461.4h0.5V460.8h0.5V461.1h0.5V461.7h0.5V460.8h0.5V460.8h0.5V460.7h0.5V461.3h0.5V458.6h0.5V460h0.5V461.4h0.5V461.4h0.5V461.9h0.5V461.8h0.5V459.8h0.5V461.7h0.5V461.4h0.5V461.4h0.5V461.6h0.5V461.3h0.5V461.8h0.5V461.8h0.5V459.3h0.5V461.3h0.5V461.7h0.5V461.4h0.5V460.7h0.5V461.6h0.5V461.5h0.5V456.4h0.5V461.4h0.5V461.6h0.5V460.3h0.5V460.9h0.5V461.5h0.5V460.3h0.5V461.4h0.5V460.3h0.5V460.6h0.5V460.7h0.5V461.8h0.5V461.5h0.5V460.9h0.5V460.7h0.5V460.7h0.5V461.7h0.5V460.5h0.5V460.5h0.5V461.9h0.5V460.4h0.5V461.7h0.5V461.9h0.5V461.2h0.5V461.8h0.5V460.5h0.5V459h0.5V461.3h0.5V450.2h0.5V460.6h0.5V460.6h0.5V455.9h0.5V459.2h0.5V457.3h0.5V458h0.5V460.7h0.5V460.2h0.5V457.3h0.5V461.1h0.5V458.7h0.5V460.8h0.5V459.7h0.5V460.2h0.5V460.1h0.5V455.5h0.5V459.5h0.5V461h0.5V461.1h0.5V460.7h0.5V459.4h0.5V457.6h0.5V459.6h0.5V459.4h0.5V459.7h0.5V460.6h0.5V456.5h0.5V459.5h0.5V461.6h0.5V459.1h0.5V457.1h0.5V461h0.5V461.1h0.5V459.4h0.5V461.6h0.5V460h0.5V459.2h0.5V460.6h0.5V458.1h0.5V460.1h0.5V459h0.5V459.5h0.5V459.9h0.5V458.9h0.5V460.5h0.5V460.5h0.5V459.2h0.5V458.6h0.5V459.7h0.5V461.2h0.5V460.6h0.5V458.3h0.5V457.7h0.5V457.5h0.5V460.8h0.5V459.9h0.5V460.6h0.5V459.7h0.5V459.9h0.5V460.5h0.5V460.1h0.5V450.4h0.5V461h0.5V460.3h0.5V460.8h0.5V460.6h0.5V461.4h0.5V459.9h0.5V456.2h0.5V457.4h0.5V460.2h0.5V461.1h0.5V458.9h0.5V457.1h0.5V461.4h0.5V460.9h0.5V461.3h0.5V459.7h0.5V460.5h0.5V461.1h0.5V459.2h0.5V459.9h0.5V461.4h0.5V461.5h0.5V459.9h0.5V460.7h0.5V461.3h0.5V452.7h0.5V460.5h0.5V458.7h0.5V461.1h0.5V461.6h0.5V460.5h0.5V461h0.5V456.7h0.5V460.1h0.5V459.1h0.5V460h0.5V461.6h0.5V449.1h0.5V458.6h0.5V460.1h0.5V459.9h0.5V457.5h0.5V459.9h0.5V461.6h0.5V461h0.5V460.9h0.5V460.3h0.5V461.2h0.5V456.9h0.5V458.7h0.5V461.1h0.5V459h0.5V459.8h0.5V460.9h0.5V458.8h0.5V461h0.5V454.6h0.5V459.8h0.5V460.7h0.5V458.8h0.5V460.4h0.5V458.7h0.5V459.7h0.5V459.9h0.5V460.5h0.5V461h0.5V461.6h0.5V460.3h0.5V459h0.5V460.9h0.5V458.7h0.5V460.4h0.5V456.4h0.5V461.1h0.5V455.7h0.5V461.1h0.5V459.5h0.5V458.9h0.5V452.7h0.5V460.2h0.5V460.9h0.5V459.3h0.5V447.9h0.5V460.4h0.5V458.4h0.5V456.4h0.5V460.8h0.5V460.6h0.5V461.5h0.5V459.4h0.5V452.2h0.5V459.1h0.5V459.8h0.5V460.4h0.5V455.9h0.5V459.7h0.5V448.1h0.5V457.5h0.5V458h0.5V452.6h0.5V459.9h0.5V452.9h0.5V455.1h0.5V457.8h0.5V461.2h0.5V453h0.5V458h0.5V460.2h0.5V457.7h0.5V446.9h0.5V460.6h0.5V456.6h0.5V459.8h0.5V458h0.5V455.8h0.5V460.8h0.5V459.1h0.5V454.4h0.5V461.1h0.5V461.2h0.5V457.9h0.5V458.1h0.5V449.7h0.5V457.4h0.5V460.5h0.5V458.6h0.5V456.1h0.5V459.8h0.5V458.7h0.5V460.4h0.5V460.6h0.5V461.3h0.5V461.3h0.5V460.6h0.5V460.5h0.5V458.9h0.5V459.6h0.5V460.8h0.5V460.9h0.5V460.4h0.5V459.2h0.5V461.1h0.5V460.6h0.5V454.8h0.5V461.2h0.5V460h0.5V460.4h0.5V456h0.5V460.8h0.5V458.4h0.5V455.6h0.5V460.5h0.5V459.2h0.5V451.1h0.5V459.2h0.5V460.2h0.5V459.4h0.5V459h0.5V459.5h0.5V459.3h0.5V458.9h0.5V460.2h0.5V456h0.5V459.5h0.5V456.5h0.5V460.4h0.5V459h0.5V461.1h0.5V460.5h0.5V458.6h0.5V460h0.5V460.2h0.5V457.9h0.5V449h0.5V453.2h0.5V459.8h0.5V460.8h0.5V456.7h0.5V459.4h0.5V458.3h0.5V457h0.5V460.4h0.5V458.8h0.5V457.2h0.5V457.9h0.5V456.7h0.5V459.7h0.5V457.6h0.5V456.3h0.5V457.4h0.5V460.9h0.5V456.7h0.5V451h0.5V460.4h0.5V459.8h0.5V460.3h0.5V457.9h0.5V458.5h0.5V452.5h0.5V460.4h0.5V459.4h0.5V459.9h0.5V458.6h0.5V461.4h0.5V458.4h0.5V458.8h0.5V453.9h0.5V452.9h0.5V454.6h0.5V450.8h0.5V461.1h0.5V456.3h0.5V459.3h0.5V460h0.5V460.2h0.5V460.4h0.5V458.3h0.5V453h0.5V460.6h0.5V460.3h0.5V460h0.5V457.5h0.5V459.1h0.5V454.2h0.5V454.7h0.5V455.8h0.5V459.9h0.5V455.9h0.5V460.2h0.5V452.9h0.5V455.2h0.5V461.3h0.5V454.2h0.5V456.7h0.5V457.8h0.5V459.9h0.5V460.6h0.5V454.7h0.5V459.3h0.5V458.7h0.5V457.7h0.5V459.5h0.5V456.8h0.5V460.3h0.5V459.4h0.5V460.4h0.5V458.3h0.5V455.2h0.5V461.2h0.5V460.7h0.5V458.1h0.5V458.4h0.5V459.3h0.5V459.5h0.5V460.3h0.5V461h0.5V459.5h0.5V460.4h0.5V460.3h0.5V460.1h0.5V461.1h0.5V456.3h0.5V455.3h0.5V458.3h0.5V447.8h0.5V459.7h0.5V459.5h0.5V457.9h0.5V457.3h0.5V460.5h0.5V455.3h0.5V460.5h0.5V456h0.5V458.7h0.5V459.3h0.5V458.9h0.5V460.8h0.5V448h0.5V455.5h0.5V459.4h0.5V459.8h0.5V454.9h0.5V460.6h0.5V457.5h0.5V455.1h0.5V454.9h0.5V460.9h0.5V460.1h0.5V456.4h0.5V457h0.5V459.6h0.5V456.9h0.5V460.1h0.5V459.1h0.5V461h0.5V454.9h0.5V437.1h0.5V456.9h0.5V452.9h0.5V460h0.5V460.1h0.5V453.8h0.5V456.4h0.5V458.5h0.5V457.7h0.5V457.4h0.5V460.4h0.5V452.1h0.5V459.2h0.5V457.8h0.5V458.5h0.5V452.5h0.5V454.7h0.5V459.9h0.5V458.3h0.5V449h0.5V451.4h0.5V456.2h0.5V457.8h0.5V457.2h0.5V456.6h0.5V453.9h0.5V459.6h0.5V456.8h0.5V461.1h0.5V459.6h0.5V444.8h0.5V459.6h0.5V458.2h0.5V457.3h0.5V456.8h0.5V461.3h0.5V459h0.5V440.6h0.5V443.9h0.5V459.9h0.5V457.8h0.5V457.6h0.5V454.7h0.5V459.1h0.5V459h0.5V459.2h0.5V459.9h0.5V455.1h0.5V457.9h0.5V460.1h0.5V442.2h0.5V452.9h0.5V460.1h0.5V454.8h0.5V444.3h0.5V453.7h0.5V455.6h0.5V457.5h0.5V460.6h0.5V456.9h0.5V456.7h0.5V458.8h0.5V458.4h0.5V460.7h0.5V454.9h0.5V455.1h0.5V455h0.5V453.4h0.5V457.6h0.5V449.4h0.5V447.5h0.5V455.2h0.5V458.3h0.5V458h0.5V460.1h0.5V459.1h0.5V451.6h0.5V456.5h0.5V457.9h0.5V460.4h0.5V455.7h0.5V455h0.5V461.4h0.5V460.2h0.5V451.5h0.5V459.6h0.5V461.2h0.5V453.7h0.5V455.7h0.5V458.8h0.5V452.7h0.5V455h0.5V460.4h0.5V451.2h0.5V459h0.5V452.6h0.5V457h0.5V456.1h0.5V456.1h0.5V451.7h0.5V460.3h0.5V458.1h0.5V455.8h0.5V459.2h0.5V452.3h0.5V459.3h0.5V433.6h0.5V457.1h0.5V456.4h0.5V459.9h0.5V458.5h0.5V459.8h0.5V456.4h0.5V456.4h0.5V459.7h0.5V457.1h0.5V451.9h0.5V456.1h0.5V460.1h0.5V457.6h0.5V460.5h0.5V456.4h0.5V454.2h0.5V458.5h0.5V455.7h0.5V460.1h0.5V450.8h0.5V458.8h0.5V455.8h0.5V447.1h0.5V437.4h0.5V459.3h0.5V456.9h0.5V449.1h0.5V458.7h0.5V458.3h0.5V449.4h0.5V456.7h0.5V449.7h0.5V438.2h0.5V458.3h0.5V459.8h0.5V445.7h0.5V443.7h0.5V453.2h0.5V449.6h0.5V460.9h0.5V459.5h0.5V456.1h0.5V457.3h0.5V442.6h0.5V432.3h0.5V457.2h0.5V459.4h0.5V460.5h0.5V453.6h0.5V448.6h0.5V458.2h0.5V458.2h0.5V456.1h0.5V455.8h0.5V456.7h0.5V434.1h0.5V456.4h0.5V444.1h0.5V454.8h0.5V456h0.5V459.4h0.5V453.3h0.5V454h0.5V457.8h0.5V457.3h0.5V448h0.5V446h0.5V453.3h0.5V458.9h0.5V460.2h0.5V456.8h0.5V458.9h0.5V454.3h0.5V455.8h0.5V450h0.5V435.4h0.5V456.2h0.5V457.8h0.5V452.8h0.5V454.4h0.5V438.2h0.5V456.2h0.5V455.5h0.5V451.8h0.5V455.8h0.5V453h0.5V458.8h0.5V447.9h0.5V446.5h0.5V448h0.5V426.8h0.5V426.9h0.5V452.8h0.5V457.7h0.5V454.8h0.5V459.5h0.5V440.8h0.5V439.4h0.5V453.5h0.5V458.5h0.5V457.5h0.5V456.9h0.5V451.5h0.5V459.1h0.5V458.3h0.5V446.2h0.5V449.3h0.5V448.4h0.5V427.9h0.5V395.6h0.5V436.2h0.5V432.3h0.5V437.7h0.5V457.5h0.5V455.5h0.5V456.9h0.5V446.3h0.5V450.2h0.5V445h0.5V458h0.5V422.2h0.5V446.4h0.5V455.4h0.5V446.6h0.5V455.9h0.5V446.6h0.5V452.4h0.5V449.9h0.5V426.1h0.5V461.9Z" fill="#ff0000"/>
<path d="M136.2 462.1V455M201.7 462.1V455M267.3 462.1V455M332.8 462.1V455M398.4 462.1V455M464 462.1V455M529.5 462.1V455M595.1 462.1V455" stroke="#000" stroke-width="3.5" fill="none"/>
<path d="M87 461.9v-1.7M89.2 461.9v-1.6M93.8 461.9v-1.2M96 461.9v-4M102 461.9v-3.3M108.8 461.9v-4.5M115.5 461.9v-2.5M150 461.9v-5.4M156 461.9v-5.2M163.5 461.9v-4.9M166.5 461.9v-4.7M180.8 461.9v-5.7M190.5 461.9v-7.7M200.2 461.9v-7M201 461.9v-3.5M202.5 461.9v-5.3M211.5 461.9v-7.7M219 461.9v-6.2M231 461.9v-3M235.5 461.9v-2.4M237 461.9v-6.3M245.2 461.9v-5M254.2 461.9v-9.7M255.8 461.9v-4M257.2 461.9v-8.3M260.2 461.9v-5.3M267.8 461.9v-7.2M279.8 461.9v-9.7M282 461.9v-9.5M300.8 461.9v-11.5M301.5 461.9v-5.5M303 461.9v-8.6M309 461.9v-9.6M312 461.9v-5.3M318 461.9v-15M321 461.9v-9.7M322.5 461.9v-4.7M323.2 461.9v-10.4M332.2 461.9v-8.9M338.2 461.9v-12.4M348 461.9v-5.6M348.8 461.9v-17.6M354.8 461.9v-6M357.8 461.9v-10.8M358.5 461.9v-10M361.5 461.9v-5M362.2 461.9v-14.7M363 461.9v-8.7M363.8 461.9v-8.7M366 461.9v-8.7M371.2 461.9v-7M376.5 461.9v-11.8M378.8 461.9v-13.7M380.2 461.9v-11.5M381.8 461.9v-10.9M382.5 461.9v-13M388.5 461.9v-9.9M390 461.9v-14.3M395.2 461.9v-10.4M404.2 461.9v-4.8M408 461.9v-5M413.2 461.9v-11.3M414.8 461.9v-22.7M416.2 461.9v-14.9M424.5 461.9v-5.6M426 461.9v-7.1M434.2 461.9v-8.3M440.2 461.9v-12.7M442.5 461.9v-3.6M444 461.9v-10.7M446.2 461.9v-6.6M447 461.9v-19.9M454.5 461.9v-6.2M461.2 461.9v-5.4M472.5 461.9v-20.1M481.5 461.9v-8.8M483 461.9v-14M487.5 461.9v-9.7M489.8 461.9v-21.5M492.8 461.9v-10.9M494.2 461.9v-14.5M502.5 461.9v-14.5M518.2 461.9v-39.5M521.2 461.9v-4.6M522.8 461.9v-14.8M525 461.9v-15.4M528.8 461.9v-12.4M534.8 461.9v-22.7M540.8 461.9v-9.3M546.8 461.9v-28.2M549 461.9v-13.5M552.8 461.9v-20.4M555 461.9v-27.3M565.5 461.9v-13.5M570 461.9v-19.7M580.5 461.9v-16.4M581.2 461.9v-20.3M587.2 461.9v-41.3M595.5 461.9v-23.7M597 461.9v-34.2M252.6 461.9v-23.3M319.6 461.9v-37.9M325.4 461.9v-33.9M334.6 461.9v-24.9M349 461.9v-16.9M374 461.9v-16.9M400.8 461.9v-20.9M412 461.9v-16.9M552.9 461.9v-50.9M560.6 461.9v-51.4M564.8 461.9v-28.9M575.3 461.9v-25.9M582.6 461.9v-40.9M586 461.9v-78.4M589.3 461.9v-64.9M592 461.9v-64.9M594.2 461.9v-56.9M147 461.9v-10.9M116 461.9v-8.9M176 461.9v-9.9M226 461.9v-12.9M286 461.9v-12.9M438 461.9v-21.9M463 461.9v-17.9M487 461.9v-20.9M515 461.9v-23.9M530 461.9v-20.9M545 461.9v-25.9" fill="none" stroke="#ff0000" stroke-width="0.7"/>
<path d="M597.9 91V461.5" stroke="#800000" stroke-width="1.6" fill="none"/>
<path d="M70.6 90.4L168.8 111.2L211.1 316L261.6 188.5L312.6 437.2L385.3 247.8L445.6 424.1L470.1 236L491.6 242L502.5 216.8L519.3 358.2L531.1 230.3L544.6 425L561.8 291L570.3 162L573.2 318L580.7 433L583 330L586.4 163L590 215L592 300L592.8 200L593.8 296L594.6 198L595.4 290L596.2 200L596.9 282L597.3 166L597.5 461.8" fill="none" stroke="#60005c" stroke-width="3.8" stroke-linejoin="round" stroke-linecap="round" stroke-dasharray="9.5 7.95 0.01 7.95"/>
<path d="M597.5 168V462" fill="none" stroke="#60005c" stroke-width="3.0"/>
<path d="M70.6 461.9C76.2 461.8 95.3 461.6 104 461.3C112.7 461 116.6 460.5 122.9 460C129.2 459.5 135.6 458.8 141.9 458.2C148.2 457.6 154.6 456.9 160.9 456.1C167.2 455.3 174.1 454.1 179.9 453.2C185.8 452.3 189.3 451.9 196 451C202.7 450.1 211 448.8 220 447.6C229 446.4 240 444.9 250 443.6C260 442.3 271.7 441 280 440C288.3 439 294.5 438.5 300 437.8C305.5 437.1 309.1 436.9 312.8 435.8C316.5 434.8 318.5 433.1 322 431.5C325.5 429.9 327 428.4 333.8 426.4C340.6 424.4 353.3 421.6 363 419.3C372.7 417 382.5 415.2 392.2 412.8C401.9 410.4 412.6 407.1 421.4 404.8C430.1 402.5 437.4 401.2 444.7 399.2C452 397.2 457.6 395.5 465.2 392.8C472.8 390.1 481.5 387.1 490 383.2C498.5 379.2 508.1 373.4 516.4 369.1C524.7 364.8 534 360.5 540 357.5C546 354.5 549 353.5 552.7 350.9C556.4 348.3 559 345.9 562 342C565 338.1 568.2 332.8 570.9 327.3C573.6 321.8 575.9 315.4 578 309C580.1 302.6 581.9 296.9 583.6 289.1C585.3 281.3 586.7 272.7 588 262C589.3 251.3 590.2 238.7 591.3 225C592.4 211.3 593.6 191.3 594.4 180C595.2 168.7 595.7 163.5 596.2 157C596.7 150.5 597.1 146.3 597.4 141C597.7 135.7 597.8 130.5 597.9 125C598 119.5 597.9 113.2 597.9 108C597.9 102.8 597.9 95.9 597.9 93.5" fill="none" stroke="#0000ff" stroke-width="3.8" stroke-linecap="round" stroke-dasharray="4.9 8.1"/>
</g>
<text x="67.3" y="25" font-size="25" text-anchor="end">1.2</text>
<text x="67.3" y="99.2" font-size="25" text-anchor="end">1.0</text>
<text x="67.3" y="173.5" font-size="25" text-anchor="end">0.8</text>
<text x="67.3" y="247.8" font-size="25" text-anchor="end">0.6</text>
<text x="67.3" y="322" font-size="25" text-anchor="end">0.4</text>
<text x="67.3" y="396.2" font-size="25" text-anchor="end">0.2</text>
<text x="620.6" y="470.5" font-size="25">0</text>
<text x="620.6" y="406.9" font-size="25">5</text>
<text x="620.6" y="343.2" font-size="25">10</text>
<text x="620.6" y="279.6" font-size="25">15</text>
<text x="620.6" y="215.9" font-size="25">20</text>
<text x="620.6" y="152.3" font-size="25">25</text>
<text x="620.6" y="88.7" font-size="25">30</text>
<text x="620.6" y="25" font-size="25">35</text>
<text x="134" y="484.3" font-size="25" text-anchor="middle">300</text>
<text x="199.5" y="484.3" font-size="25" text-anchor="middle">600</text>
<text x="265.1" y="484.3" font-size="25" text-anchor="middle">900</text>
<text x="330.6" y="484.3" font-size="25" text-anchor="middle">1200</text>
<text x="396.2" y="484.3" font-size="25" text-anchor="middle">1500</text>
<text x="461.8" y="484.3" font-size="25" text-anchor="middle">1800</text>
<text x="527.3" y="484.3" font-size="25" text-anchor="middle">2100</text>
<text x="592.9" y="484.3" font-size="25" text-anchor="middle">2400</text>
<text x="58" y="483.6" font-size="25" text-anchor="middle">0</text>
<text x="336" y="513.4" font-size="28.4" text-anchor="middle">Time/s</text>
<text transform="translate(28.5 239.8) rotate(-90)" font-size="28.3" text-anchor="middle">Normalized parameter values</text>
<text transform="translate(674.9 238.3) rotate(-90)" font-size="28" text-anchor="middle">Stress/MPa</text>
<path d="M92.5 36.55H135.1" stroke="#000" stroke-width="3.5" stroke-linecap="round" fill="none"/>
<text x="140.3" y="42.7" font-size="18.7">Stress</text>
<circle cx="211" cy="36.6" r="2.2" fill="url(#rg)"/>
<text x="233.4" y="42.7" font-size="18.7">Amplitude</text>
<rect x="322" y="26.6" width="42" height="19.7" fill="#ff0000"/>
<text x="369.8" y="42.7" font-size="18.7">Ringing counts</text>
<path d="M492.5 36.5H501.1M509.1 36.5h0.01M517.2 36.5H526.3M534.3 36.5h0.01" stroke="#60005c" stroke-width="3.6" stroke-linecap="round" fill="none"/>
<text x="539.6" y="42.7" font-size="18.7"><tspan font-style="italic">b</tspan> value</text>
<path d="M92.4 61.7H97.5M106.8 61.7H112M121.5 61.7H126.4" stroke="#0000ff" stroke-width="3.6" stroke-linecap="round" fill="none"/>
<text x="139.8" y="67.6" font-size="18.7">Cumulative ringing counts</text>
</svg>
</body></html>
